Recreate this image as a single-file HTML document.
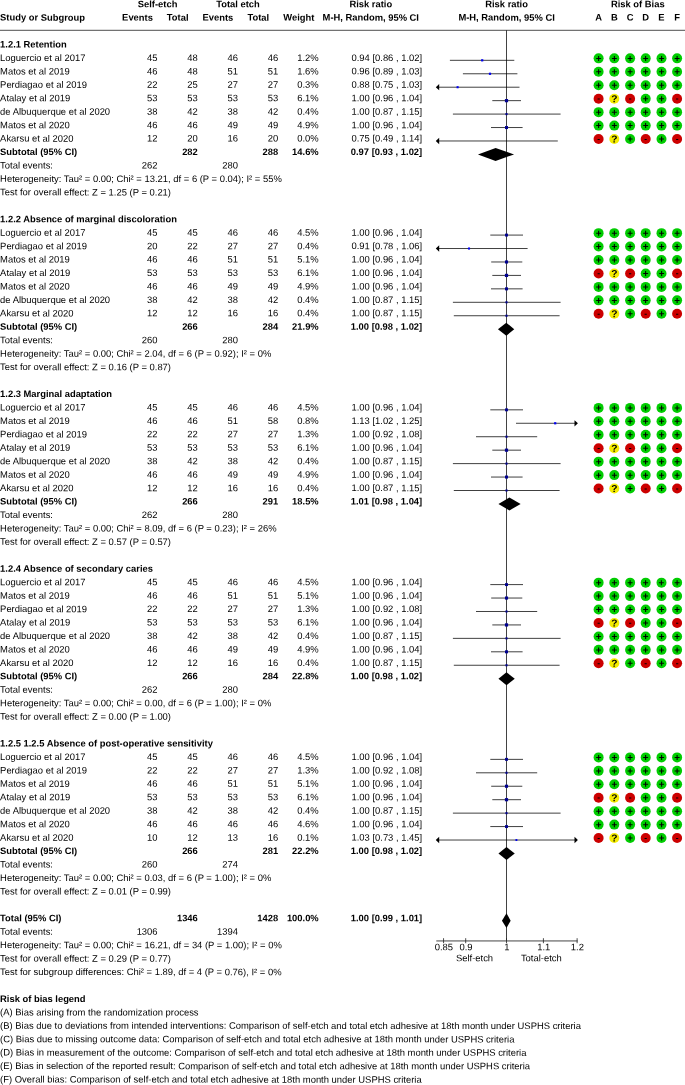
<!DOCTYPE html>
<html><head><meta charset="utf-8"><title>Forest plot</title>
<style>
html,body{margin:0;padding:0;background:#fff}
svg{display:block;will-change:transform}
svg text[font-weight=bold]{font-size:9.4px}
svg text{font-family:"Liberation Sans",Arial,Helvetica,sans-serif;font-size:9.44px;fill:#000;text-rendering:geometricPrecision}
</style></head><body>
<svg width="685" height="1085" viewBox="0 0 685 1085">
<rect width="685" height="1085" fill="#fff"/>
<text x="157.60" y="7.20" text-anchor="middle" font-weight="bold" transform="rotate(0.03 157.6 7.2)">Self-etch</text>
<text x="238.00" y="7.20" text-anchor="middle" font-weight="bold" transform="rotate(0.03 238.0 7.2)">Total etch</text>
<text x="370.80" y="7.20" text-anchor="middle" font-weight="bold" transform="rotate(0.03 370.8 7.2)">Risk ratio</text>
<text x="506.60" y="7.20" text-anchor="middle" font-weight="bold" transform="rotate(0.03 506.6 7.2)">Risk ratio</text>
<text x="637.80" y="7.20" text-anchor="middle" font-weight="bold" transform="rotate(0.03 637.8 7.2)">Risk of Bias</text>
<text x="0.10" y="20.64" font-weight="bold" transform="rotate(0.03 39.2 20.6)">Study or Subgroup</text>
<text x="137.50" y="20.64" text-anchor="middle" font-weight="bold" transform="rotate(0.03 137.5 20.6)">Events</text>
<text x="177.70" y="20.64" text-anchor="middle" font-weight="bold" transform="rotate(0.03 177.7 20.6)">Total</text>
<text x="217.90" y="20.64" text-anchor="middle" font-weight="bold" transform="rotate(0.03 217.9 20.6)">Events</text>
<text x="258.30" y="20.64" text-anchor="middle" font-weight="bold" transform="rotate(0.03 258.3 20.6)">Total</text>
<text x="298.90" y="20.64" text-anchor="middle" font-weight="bold" transform="rotate(0.03 298.9 20.6)">Weight</text>
<text x="370.80" y="20.64" text-anchor="middle" font-weight="bold" transform="rotate(0.03 370.8 20.6)">M-H, Random, 95% CI</text>
<text x="506.60" y="20.64" text-anchor="middle" font-weight="bold" transform="rotate(0.03 506.6 20.6)">M-H, Random, 95% CI</text>
<text x="598.60" y="20.64" text-anchor="middle" font-weight="bold" transform="rotate(0.03 598.6 20.6)">A</text>
<text x="614.30" y="20.64" text-anchor="middle" font-weight="bold" transform="rotate(0.03 614.3 20.6)">B</text>
<text x="630.10" y="20.64" text-anchor="middle" font-weight="bold" transform="rotate(0.03 630.1 20.6)">C</text>
<text x="645.70" y="20.64" text-anchor="middle" font-weight="bold" transform="rotate(0.03 645.7 20.6)">D</text>
<text x="661.50" y="20.64" text-anchor="middle" font-weight="bold" transform="rotate(0.03 661.5 20.6)">E</text>
<text x="677.10" y="20.64" text-anchor="middle" font-weight="bold" transform="rotate(0.03 677.1 20.6)">F</text>
<line x1="0.00" y1="30.30" x2="685.00" y2="30.30" stroke="#222" stroke-width="0.8"/>
<line x1="506.50" y1="30.30" x2="506.50" y2="940.70" stroke="#111" stroke-width="0.8"/>
<text x="0.10" y="47.53" font-weight="bold" transform="rotate(0.03 34.6 47.5)">1.2.1 Retention</text>
<text x="0.10" y="60.97" transform="rotate(0.03 46.1 61.0)">Loguercio et al 2017</text>
<text x="157.60" y="60.97" text-anchor="end" transform="rotate(0.03 157.6 61.0)">45</text>
<text x="197.80" y="60.97" text-anchor="end" transform="rotate(0.03 197.8 61.0)">48</text>
<text x="238.00" y="60.97" text-anchor="end" transform="rotate(0.03 238.0 61.0)">46</text>
<text x="278.20" y="60.97" text-anchor="end" transform="rotate(0.03 278.2 61.0)">46</text>
<text x="318.70" y="60.97" text-anchor="end" transform="rotate(0.03 318.7 61.0)">1.2%</text>
<text x="422.20" y="60.97" text-anchor="end" transform="rotate(0.03 422.2 61.0)">0.94 [0.86 , 1.02]</text>
<line x1="449.90" y1="60.32" x2="514.30" y2="60.32" stroke="#000" stroke-width="0.75"/>
<rect x="481.10" y="59.22" width="2.2" height="2.2" fill="#0000f0"/>
<circle cx="598.6" cy="58.37" r="5" fill="#00cc00"/>
<text x="598.60" y="61.67" text-anchor="middle" font-weight="bold" style="font-size:9.8px" transform="rotate(0.03 598.6 61.7)">+</text>
<circle cx="614.3" cy="58.37" r="5" fill="#00cc00"/>
<text x="614.30" y="61.67" text-anchor="middle" font-weight="bold" style="font-size:9.8px" transform="rotate(0.03 614.3 61.7)">+</text>
<circle cx="630.1" cy="58.37" r="5" fill="#00cc00"/>
<text x="630.10" y="61.67" text-anchor="middle" font-weight="bold" style="font-size:9.8px" transform="rotate(0.03 630.1 61.7)">+</text>
<circle cx="645.7" cy="58.37" r="5" fill="#00cc00"/>
<text x="645.70" y="61.67" text-anchor="middle" font-weight="bold" style="font-size:9.8px" transform="rotate(0.03 645.7 61.7)">+</text>
<circle cx="661.5" cy="58.37" r="5" fill="#00cc00"/>
<text x="661.50" y="61.67" text-anchor="middle" font-weight="bold" style="font-size:9.8px" transform="rotate(0.03 661.5 61.7)">+</text>
<circle cx="677.1" cy="58.37" r="5" fill="#00cc00"/>
<text x="677.10" y="61.67" text-anchor="middle" font-weight="bold" style="font-size:9.8px" transform="rotate(0.03 677.1 61.7)">+</text>
<text x="0.10" y="74.42" transform="rotate(0.03 36.9 74.4)">Matos et al 2019</text>
<text x="157.60" y="74.42" text-anchor="end" transform="rotate(0.03 157.6 74.4)">46</text>
<text x="197.80" y="74.42" text-anchor="end" transform="rotate(0.03 197.8 74.4)">48</text>
<text x="238.00" y="74.42" text-anchor="end" transform="rotate(0.03 238.0 74.4)">51</text>
<text x="278.20" y="74.42" text-anchor="end" transform="rotate(0.03 278.2 74.4)">51</text>
<text x="318.70" y="74.42" text-anchor="end" transform="rotate(0.03 318.7 74.4)">1.6%</text>
<text x="422.20" y="74.42" text-anchor="end" transform="rotate(0.03 422.2 74.4)">0.96 [0.89 , 1.03]</text>
<line x1="462.90" y1="73.77" x2="517.40" y2="73.77" stroke="#000" stroke-width="0.75"/>
<rect x="488.90" y="72.67" width="2.2" height="2.2" fill="#0000f0"/>
<circle cx="598.6" cy="71.82" r="5" fill="#00cc00"/>
<text x="598.60" y="75.12" text-anchor="middle" font-weight="bold" style="font-size:9.8px" transform="rotate(0.03 598.6 75.1)">+</text>
<circle cx="614.3" cy="71.82" r="5" fill="#00cc00"/>
<text x="614.30" y="75.12" text-anchor="middle" font-weight="bold" style="font-size:9.8px" transform="rotate(0.03 614.3 75.1)">+</text>
<circle cx="630.1" cy="71.82" r="5" fill="#00cc00"/>
<text x="630.10" y="75.12" text-anchor="middle" font-weight="bold" style="font-size:9.8px" transform="rotate(0.03 630.1 75.1)">+</text>
<circle cx="645.7" cy="71.82" r="5" fill="#00cc00"/>
<text x="645.70" y="75.12" text-anchor="middle" font-weight="bold" style="font-size:9.8px" transform="rotate(0.03 645.7 75.1)">+</text>
<circle cx="661.5" cy="71.82" r="5" fill="#00cc00"/>
<text x="661.50" y="75.12" text-anchor="middle" font-weight="bold" style="font-size:9.8px" transform="rotate(0.03 661.5 75.1)">+</text>
<circle cx="677.1" cy="71.82" r="5" fill="#00cc00"/>
<text x="677.10" y="75.12" text-anchor="middle" font-weight="bold" style="font-size:9.8px" transform="rotate(0.03 677.1 75.1)">+</text>
<text x="0.10" y="87.86" transform="rotate(0.03 46.1 87.9)">Perdiagao et al 2019</text>
<text x="157.60" y="87.86" text-anchor="end" transform="rotate(0.03 157.6 87.9)">22</text>
<text x="197.80" y="87.86" text-anchor="end" transform="rotate(0.03 197.8 87.9)">25</text>
<text x="238.00" y="87.86" text-anchor="end" transform="rotate(0.03 238.0 87.9)">27</text>
<text x="278.20" y="87.86" text-anchor="end" transform="rotate(0.03 278.2 87.9)">27</text>
<text x="318.70" y="87.86" text-anchor="end" transform="rotate(0.03 318.7 87.9)">0.3%</text>
<text x="422.20" y="87.86" text-anchor="end" transform="rotate(0.03 422.2 87.9)">0.88 [0.75 , 1.03]</text>
<line x1="437.30" y1="87.21" x2="519.50" y2="87.21" stroke="#000" stroke-width="0.75"/>
<polygon points="435.80,87.21 439.20,84.06 439.20,90.36" fill="#000"/>
<rect x="456.55" y="86.16" width="2.1" height="2.1" fill="#0000f0"/>
<circle cx="598.6" cy="85.26" r="5" fill="#00cc00"/>
<text x="598.60" y="88.56" text-anchor="middle" font-weight="bold" style="font-size:9.8px" transform="rotate(0.03 598.6 88.6)">+</text>
<circle cx="614.3" cy="85.26" r="5" fill="#00cc00"/>
<text x="614.30" y="88.56" text-anchor="middle" font-weight="bold" style="font-size:9.8px" transform="rotate(0.03 614.3 88.6)">+</text>
<circle cx="630.1" cy="85.26" r="5" fill="#00cc00"/>
<text x="630.10" y="88.56" text-anchor="middle" font-weight="bold" style="font-size:9.8px" transform="rotate(0.03 630.1 88.6)">+</text>
<circle cx="645.7" cy="85.26" r="5" fill="#00cc00"/>
<text x="645.70" y="88.56" text-anchor="middle" font-weight="bold" style="font-size:9.8px" transform="rotate(0.03 645.7 88.6)">+</text>
<circle cx="661.5" cy="85.26" r="5" fill="#00cc00"/>
<text x="661.50" y="88.56" text-anchor="middle" font-weight="bold" style="font-size:9.8px" transform="rotate(0.03 661.5 88.6)">+</text>
<circle cx="677.1" cy="85.26" r="5" fill="#00cc00"/>
<text x="677.10" y="88.56" text-anchor="middle" font-weight="bold" style="font-size:9.8px" transform="rotate(0.03 677.1 88.6)">+</text>
<text x="0.10" y="101.30" transform="rotate(0.03 39.2 101.3)">Atalay et al 2019</text>
<text x="157.60" y="101.30" text-anchor="end" transform="rotate(0.03 157.6 101.3)">53</text>
<text x="197.80" y="101.30" text-anchor="end" transform="rotate(0.03 197.8 101.3)">53</text>
<text x="238.00" y="101.30" text-anchor="end" transform="rotate(0.03 238.0 101.3)">53</text>
<text x="278.20" y="101.30" text-anchor="end" transform="rotate(0.03 278.2 101.3)">53</text>
<text x="318.70" y="101.30" text-anchor="end" transform="rotate(0.03 318.7 101.3)">6.1%</text>
<text x="422.20" y="101.30" text-anchor="end" transform="rotate(0.03 422.2 101.3)">1.00 [0.96 , 1.04]</text>
<line x1="492.30" y1="100.65" x2="521.00" y2="100.65" stroke="#000" stroke-width="0.75"/>
<rect x="504.90" y="99.05" width="3.2" height="3.2" fill="#000090"/>
<circle cx="598.6" cy="98.70" r="5" fill="#cc0000"/>
<text x="598.60" y="101.35" text-anchor="middle" font-weight="bold" style="font-size:8.6px" transform="rotate(0.03 598.6 101.4)">-</text>
<circle cx="614.3" cy="98.70" r="5" fill="#f4ec00"/>
<text x="614.30" y="102.20" text-anchor="middle" font-weight="bold" style="font-size:10.2px" transform="rotate(0.03 614.3 102.2)">?</text>
<circle cx="630.1" cy="98.70" r="5" fill="#cc0000"/>
<text x="630.10" y="101.35" text-anchor="middle" font-weight="bold" style="font-size:8.6px" transform="rotate(0.03 630.1 101.4)">-</text>
<circle cx="645.7" cy="98.70" r="5" fill="#00cc00"/>
<text x="645.70" y="102.00" text-anchor="middle" font-weight="bold" style="font-size:9.8px" transform="rotate(0.03 645.7 102.0)">+</text>
<circle cx="661.5" cy="98.70" r="5" fill="#00cc00"/>
<text x="661.50" y="102.00" text-anchor="middle" font-weight="bold" style="font-size:9.8px" transform="rotate(0.03 661.5 102.0)">+</text>
<circle cx="677.1" cy="98.70" r="5" fill="#cc0000"/>
<text x="677.10" y="101.35" text-anchor="middle" font-weight="bold" style="font-size:8.6px" transform="rotate(0.03 677.1 101.4)">-</text>
<text x="0.10" y="114.74" transform="rotate(0.03 57.6 114.7)">de Albuquerque et al 2020</text>
<text x="157.60" y="114.74" text-anchor="end" transform="rotate(0.03 157.6 114.7)">38</text>
<text x="197.80" y="114.74" text-anchor="end" transform="rotate(0.03 197.8 114.7)">42</text>
<text x="238.00" y="114.74" text-anchor="end" transform="rotate(0.03 238.0 114.7)">38</text>
<text x="278.20" y="114.74" text-anchor="end" transform="rotate(0.03 278.2 114.7)">42</text>
<text x="318.70" y="114.74" text-anchor="end" transform="rotate(0.03 318.7 114.7)">0.4%</text>
<text x="422.20" y="114.74" text-anchor="end" transform="rotate(0.03 422.2 114.7)">1.00 [0.87 , 1.15]</text>
<line x1="452.90" y1="114.09" x2="560.60" y2="114.09" stroke="#000" stroke-width="0.75"/>
<rect x="505.45" y="113.04" width="2.1" height="2.1" fill="#000090"/>
<circle cx="598.6" cy="112.14" r="5" fill="#00cc00"/>
<text x="598.60" y="115.44" text-anchor="middle" font-weight="bold" style="font-size:9.8px" transform="rotate(0.03 598.6 115.4)">+</text>
<circle cx="614.3" cy="112.14" r="5" fill="#00cc00"/>
<text x="614.30" y="115.44" text-anchor="middle" font-weight="bold" style="font-size:9.8px" transform="rotate(0.03 614.3 115.4)">+</text>
<circle cx="630.1" cy="112.14" r="5" fill="#00cc00"/>
<text x="630.10" y="115.44" text-anchor="middle" font-weight="bold" style="font-size:9.8px" transform="rotate(0.03 630.1 115.4)">+</text>
<circle cx="645.7" cy="112.14" r="5" fill="#00cc00"/>
<text x="645.70" y="115.44" text-anchor="middle" font-weight="bold" style="font-size:9.8px" transform="rotate(0.03 645.7 115.4)">+</text>
<circle cx="661.5" cy="112.14" r="5" fill="#00cc00"/>
<text x="661.50" y="115.44" text-anchor="middle" font-weight="bold" style="font-size:9.8px" transform="rotate(0.03 661.5 115.4)">+</text>
<circle cx="677.1" cy="112.14" r="5" fill="#00cc00"/>
<text x="677.10" y="115.44" text-anchor="middle" font-weight="bold" style="font-size:9.8px" transform="rotate(0.03 677.1 115.4)">+</text>
<text x="0.10" y="128.19" transform="rotate(0.03 36.9 128.2)">Matos et al 2020</text>
<text x="157.60" y="128.19" text-anchor="end" transform="rotate(0.03 157.6 128.2)">46</text>
<text x="197.80" y="128.19" text-anchor="end" transform="rotate(0.03 197.8 128.2)">46</text>
<text x="238.00" y="128.19" text-anchor="end" transform="rotate(0.03 238.0 128.2)">49</text>
<text x="278.20" y="128.19" text-anchor="end" transform="rotate(0.03 278.2 128.2)">49</text>
<text x="318.70" y="128.19" text-anchor="end" transform="rotate(0.03 318.7 128.2)">4.9%</text>
<text x="422.20" y="128.19" text-anchor="end" transform="rotate(0.03 422.2 128.2)">1.00 [0.96 , 1.04]</text>
<line x1="491.00" y1="127.54" x2="522.60" y2="127.54" stroke="#000" stroke-width="0.75"/>
<rect x="505.00" y="126.04" width="3.0" height="3.0" fill="#000090"/>
<circle cx="598.6" cy="125.59" r="5" fill="#00cc00"/>
<text x="598.60" y="128.89" text-anchor="middle" font-weight="bold" style="font-size:9.8px" transform="rotate(0.03 598.6 128.9)">+</text>
<circle cx="614.3" cy="125.59" r="5" fill="#00cc00"/>
<text x="614.30" y="128.89" text-anchor="middle" font-weight="bold" style="font-size:9.8px" transform="rotate(0.03 614.3 128.9)">+</text>
<circle cx="630.1" cy="125.59" r="5" fill="#00cc00"/>
<text x="630.10" y="128.89" text-anchor="middle" font-weight="bold" style="font-size:9.8px" transform="rotate(0.03 630.1 128.9)">+</text>
<circle cx="645.7" cy="125.59" r="5" fill="#00cc00"/>
<text x="645.70" y="128.89" text-anchor="middle" font-weight="bold" style="font-size:9.8px" transform="rotate(0.03 645.7 128.9)">+</text>
<circle cx="661.5" cy="125.59" r="5" fill="#00cc00"/>
<text x="661.50" y="128.89" text-anchor="middle" font-weight="bold" style="font-size:9.8px" transform="rotate(0.03 661.5 128.9)">+</text>
<circle cx="677.1" cy="125.59" r="5" fill="#00cc00"/>
<text x="677.10" y="128.89" text-anchor="middle" font-weight="bold" style="font-size:9.8px" transform="rotate(0.03 677.1 128.9)">+</text>
<text x="0.10" y="141.63" transform="rotate(0.03 39.2 141.6)">Akarsu et al 2020</text>
<text x="157.60" y="141.63" text-anchor="end" transform="rotate(0.03 157.6 141.6)">12</text>
<text x="197.80" y="141.63" text-anchor="end" transform="rotate(0.03 197.8 141.6)">20</text>
<text x="238.00" y="141.63" text-anchor="end" transform="rotate(0.03 238.0 141.6)">16</text>
<text x="278.20" y="141.63" text-anchor="end" transform="rotate(0.03 278.2 141.6)">20</text>
<text x="318.70" y="141.63" text-anchor="end" transform="rotate(0.03 318.7 141.6)">0.0%</text>
<text x="422.20" y="141.63" text-anchor="end" transform="rotate(0.03 422.2 141.6)">0.75 [0.49 , 1.14]</text>
<line x1="437.30" y1="140.98" x2="557.80" y2="140.98" stroke="#000" stroke-width="0.75"/>
<polygon points="435.80,140.98 439.20,137.83 439.20,144.13" fill="#000"/>
<circle cx="598.6" cy="139.03" r="5" fill="#cc0000"/>
<text x="598.60" y="141.68" text-anchor="middle" font-weight="bold" style="font-size:8.6px" transform="rotate(0.03 598.6 141.7)">-</text>
<circle cx="614.3" cy="139.03" r="5" fill="#f4ec00"/>
<text x="614.30" y="142.53" text-anchor="middle" font-weight="bold" style="font-size:10.2px" transform="rotate(0.03 614.3 142.5)">?</text>
<circle cx="630.1" cy="139.03" r="5" fill="#00cc00"/>
<text x="630.10" y="142.33" text-anchor="middle" font-weight="bold" style="font-size:9.8px" transform="rotate(0.03 630.1 142.3)">+</text>
<circle cx="645.7" cy="139.03" r="5" fill="#cc0000"/>
<text x="645.70" y="141.68" text-anchor="middle" font-weight="bold" style="font-size:8.6px" transform="rotate(0.03 645.7 141.7)">-</text>
<circle cx="661.5" cy="139.03" r="5" fill="#00cc00"/>
<text x="661.50" y="142.33" text-anchor="middle" font-weight="bold" style="font-size:9.8px" transform="rotate(0.03 661.5 142.3)">+</text>
<circle cx="677.1" cy="139.03" r="5" fill="#cc0000"/>
<text x="677.10" y="141.68" text-anchor="middle" font-weight="bold" style="font-size:8.6px" transform="rotate(0.03 677.1 141.7)">-</text>
<text x="0.10" y="155.07" font-weight="bold" transform="rotate(0.03 39.2 155.1)">Subtotal (95% CI)</text>
<text x="197.80" y="155.07" text-anchor="end" font-weight="bold" transform="rotate(0.03 197.8 155.1)">282</text>
<text x="278.20" y="155.07" text-anchor="end" font-weight="bold" transform="rotate(0.03 278.2 155.1)">288</text>
<text x="318.70" y="155.07" text-anchor="end" font-weight="bold" transform="rotate(0.03 318.7 155.1)">14.6%</text>
<text x="422.20" y="155.07" text-anchor="end" font-weight="bold" transform="rotate(0.03 422.2 155.1)">0.97 [0.93 , 1.02]</text>
<polygon points="477.95,154.42 495.60,147.92 514.05,154.42 495.60,160.92" fill="#000"/>
<text x="0.10" y="168.52" transform="rotate(0.03 30.0 168.5)">Total events:</text>
<text x="157.60" y="168.52" text-anchor="end" transform="rotate(0.03 157.6 168.5)">262</text>
<text x="238.00" y="168.52" text-anchor="end" transform="rotate(0.03 238.0 168.5)">280</text>
<text x="0.10" y="181.96" transform="rotate(0.03 158.8 182.0)">Heterogeneity: Tau² = 0.00; Chi² = 13.21, df = 6 (P = 0.04); I² = 55%</text>
<text x="0.10" y="195.40" transform="rotate(0.03 101.3 195.4)">Test for overall effect: Z = 1.25 (P = 0.21)</text>
<text x="0.10" y="222.29" font-weight="bold" transform="rotate(0.03 89.8 222.3)">1.2.2 Absence of marginal discoloration</text>
<text x="0.10" y="235.73" transform="rotate(0.03 46.1 235.7)">Loguercio et al 2017</text>
<text x="157.60" y="235.73" text-anchor="end" transform="rotate(0.03 157.6 235.7)">45</text>
<text x="197.80" y="235.73" text-anchor="end" transform="rotate(0.03 197.8 235.7)">45</text>
<text x="238.00" y="235.73" text-anchor="end" transform="rotate(0.03 238.0 235.7)">46</text>
<text x="278.20" y="235.73" text-anchor="end" transform="rotate(0.03 278.2 235.7)">46</text>
<text x="318.70" y="235.73" text-anchor="end" transform="rotate(0.03 318.7 235.7)">4.5%</text>
<text x="422.20" y="235.73" text-anchor="end" transform="rotate(0.03 422.2 235.7)">1.00 [0.96 , 1.04]</text>
<line x1="490.30" y1="235.08" x2="523.00" y2="235.08" stroke="#000" stroke-width="0.75"/>
<rect x="505.05" y="233.63" width="2.9" height="2.9" fill="#000090"/>
<circle cx="598.6" cy="233.13" r="5" fill="#00cc00"/>
<text x="598.60" y="236.43" text-anchor="middle" font-weight="bold" style="font-size:9.8px" transform="rotate(0.03 598.6 236.4)">+</text>
<circle cx="614.3" cy="233.13" r="5" fill="#00cc00"/>
<text x="614.30" y="236.43" text-anchor="middle" font-weight="bold" style="font-size:9.8px" transform="rotate(0.03 614.3 236.4)">+</text>
<circle cx="630.1" cy="233.13" r="5" fill="#00cc00"/>
<text x="630.10" y="236.43" text-anchor="middle" font-weight="bold" style="font-size:9.8px" transform="rotate(0.03 630.1 236.4)">+</text>
<circle cx="645.7" cy="233.13" r="5" fill="#00cc00"/>
<text x="645.70" y="236.43" text-anchor="middle" font-weight="bold" style="font-size:9.8px" transform="rotate(0.03 645.7 236.4)">+</text>
<circle cx="661.5" cy="233.13" r="5" fill="#00cc00"/>
<text x="661.50" y="236.43" text-anchor="middle" font-weight="bold" style="font-size:9.8px" transform="rotate(0.03 661.5 236.4)">+</text>
<circle cx="677.1" cy="233.13" r="5" fill="#00cc00"/>
<text x="677.10" y="236.43" text-anchor="middle" font-weight="bold" style="font-size:9.8px" transform="rotate(0.03 677.1 236.4)">+</text>
<text x="0.10" y="249.17" transform="rotate(0.03 46.1 249.2)">Perdiagao et al 2019</text>
<text x="157.60" y="249.17" text-anchor="end" transform="rotate(0.03 157.6 249.2)">20</text>
<text x="197.80" y="249.17" text-anchor="end" transform="rotate(0.03 197.8 249.2)">22</text>
<text x="238.00" y="249.17" text-anchor="end" transform="rotate(0.03 238.0 249.2)">27</text>
<text x="278.20" y="249.17" text-anchor="end" transform="rotate(0.03 278.2 249.2)">27</text>
<text x="318.70" y="249.17" text-anchor="end" transform="rotate(0.03 318.7 249.2)">0.4%</text>
<text x="422.20" y="249.17" text-anchor="end" transform="rotate(0.03 422.2 249.2)">0.91 [0.78 , 1.06]</text>
<line x1="437.30" y1="248.52" x2="527.60" y2="248.52" stroke="#000" stroke-width="0.75"/>
<polygon points="435.80,248.52 439.20,245.37 439.20,251.67" fill="#000"/>
<rect x="467.95" y="247.47" width="2.1" height="2.1" fill="#0000f0"/>
<circle cx="598.6" cy="246.57" r="5" fill="#00cc00"/>
<text x="598.60" y="249.87" text-anchor="middle" font-weight="bold" style="font-size:9.8px" transform="rotate(0.03 598.6 249.9)">+</text>
<circle cx="614.3" cy="246.57" r="5" fill="#00cc00"/>
<text x="614.30" y="249.87" text-anchor="middle" font-weight="bold" style="font-size:9.8px" transform="rotate(0.03 614.3 249.9)">+</text>
<circle cx="630.1" cy="246.57" r="5" fill="#00cc00"/>
<text x="630.10" y="249.87" text-anchor="middle" font-weight="bold" style="font-size:9.8px" transform="rotate(0.03 630.1 249.9)">+</text>
<circle cx="645.7" cy="246.57" r="5" fill="#00cc00"/>
<text x="645.70" y="249.87" text-anchor="middle" font-weight="bold" style="font-size:9.8px" transform="rotate(0.03 645.7 249.9)">+</text>
<circle cx="661.5" cy="246.57" r="5" fill="#00cc00"/>
<text x="661.50" y="249.87" text-anchor="middle" font-weight="bold" style="font-size:9.8px" transform="rotate(0.03 661.5 249.9)">+</text>
<circle cx="677.1" cy="246.57" r="5" fill="#00cc00"/>
<text x="677.10" y="249.87" text-anchor="middle" font-weight="bold" style="font-size:9.8px" transform="rotate(0.03 677.1 249.9)">+</text>
<text x="0.10" y="262.62" transform="rotate(0.03 36.9 262.6)">Matos et al 2019</text>
<text x="157.60" y="262.62" text-anchor="end" transform="rotate(0.03 157.6 262.6)">46</text>
<text x="197.80" y="262.62" text-anchor="end" transform="rotate(0.03 197.8 262.6)">46</text>
<text x="238.00" y="262.62" text-anchor="end" transform="rotate(0.03 238.0 262.6)">51</text>
<text x="278.20" y="262.62" text-anchor="end" transform="rotate(0.03 278.2 262.6)">51</text>
<text x="318.70" y="262.62" text-anchor="end" transform="rotate(0.03 318.7 262.6)">5.1%</text>
<text x="422.20" y="262.62" text-anchor="end" transform="rotate(0.03 422.2 262.6)">1.00 [0.96 , 1.04]</text>
<line x1="491.20" y1="261.97" x2="522.30" y2="261.97" stroke="#000" stroke-width="0.75"/>
<rect x="504.95" y="260.42" width="3.1" height="3.1" fill="#000090"/>
<circle cx="598.6" cy="260.02" r="5" fill="#00cc00"/>
<text x="598.60" y="263.32" text-anchor="middle" font-weight="bold" style="font-size:9.8px" transform="rotate(0.03 598.6 263.3)">+</text>
<circle cx="614.3" cy="260.02" r="5" fill="#00cc00"/>
<text x="614.30" y="263.32" text-anchor="middle" font-weight="bold" style="font-size:9.8px" transform="rotate(0.03 614.3 263.3)">+</text>
<circle cx="630.1" cy="260.02" r="5" fill="#00cc00"/>
<text x="630.10" y="263.32" text-anchor="middle" font-weight="bold" style="font-size:9.8px" transform="rotate(0.03 630.1 263.3)">+</text>
<circle cx="645.7" cy="260.02" r="5" fill="#00cc00"/>
<text x="645.70" y="263.32" text-anchor="middle" font-weight="bold" style="font-size:9.8px" transform="rotate(0.03 645.7 263.3)">+</text>
<circle cx="661.5" cy="260.02" r="5" fill="#00cc00"/>
<text x="661.50" y="263.32" text-anchor="middle" font-weight="bold" style="font-size:9.8px" transform="rotate(0.03 661.5 263.3)">+</text>
<circle cx="677.1" cy="260.02" r="5" fill="#00cc00"/>
<text x="677.10" y="263.32" text-anchor="middle" font-weight="bold" style="font-size:9.8px" transform="rotate(0.03 677.1 263.3)">+</text>
<text x="0.10" y="276.06" transform="rotate(0.03 39.2 276.1)">Atalay et al 2019</text>
<text x="157.60" y="276.06" text-anchor="end" transform="rotate(0.03 157.6 276.1)">53</text>
<text x="197.80" y="276.06" text-anchor="end" transform="rotate(0.03 197.8 276.1)">53</text>
<text x="238.00" y="276.06" text-anchor="end" transform="rotate(0.03 238.0 276.1)">53</text>
<text x="278.20" y="276.06" text-anchor="end" transform="rotate(0.03 278.2 276.1)">53</text>
<text x="318.70" y="276.06" text-anchor="end" transform="rotate(0.03 318.7 276.1)">6.1%</text>
<text x="422.20" y="276.06" text-anchor="end" transform="rotate(0.03 422.2 276.1)">1.00 [0.96 , 1.04]</text>
<line x1="492.30" y1="275.41" x2="521.00" y2="275.41" stroke="#000" stroke-width="0.75"/>
<rect x="504.90" y="273.81" width="3.2" height="3.2" fill="#000090"/>
<circle cx="598.6" cy="273.46" r="5" fill="#cc0000"/>
<text x="598.60" y="276.11" text-anchor="middle" font-weight="bold" style="font-size:8.6px" transform="rotate(0.03 598.6 276.1)">-</text>
<circle cx="614.3" cy="273.46" r="5" fill="#f4ec00"/>
<text x="614.30" y="276.96" text-anchor="middle" font-weight="bold" style="font-size:10.2px" transform="rotate(0.03 614.3 277.0)">?</text>
<circle cx="630.1" cy="273.46" r="5" fill="#cc0000"/>
<text x="630.10" y="276.11" text-anchor="middle" font-weight="bold" style="font-size:8.6px" transform="rotate(0.03 630.1 276.1)">-</text>
<circle cx="645.7" cy="273.46" r="5" fill="#00cc00"/>
<text x="645.70" y="276.76" text-anchor="middle" font-weight="bold" style="font-size:9.8px" transform="rotate(0.03 645.7 276.8)">+</text>
<circle cx="661.5" cy="273.46" r="5" fill="#00cc00"/>
<text x="661.50" y="276.76" text-anchor="middle" font-weight="bold" style="font-size:9.8px" transform="rotate(0.03 661.5 276.8)">+</text>
<circle cx="677.1" cy="273.46" r="5" fill="#cc0000"/>
<text x="677.10" y="276.11" text-anchor="middle" font-weight="bold" style="font-size:8.6px" transform="rotate(0.03 677.1 276.1)">-</text>
<text x="0.10" y="289.50" transform="rotate(0.03 36.9 289.5)">Matos et al 2020</text>
<text x="157.60" y="289.50" text-anchor="end" transform="rotate(0.03 157.6 289.5)">46</text>
<text x="197.80" y="289.50" text-anchor="end" transform="rotate(0.03 197.8 289.5)">46</text>
<text x="238.00" y="289.50" text-anchor="end" transform="rotate(0.03 238.0 289.5)">49</text>
<text x="278.20" y="289.50" text-anchor="end" transform="rotate(0.03 278.2 289.5)">49</text>
<text x="318.70" y="289.50" text-anchor="end" transform="rotate(0.03 318.7 289.5)">4.9%</text>
<text x="422.20" y="289.50" text-anchor="end" transform="rotate(0.03 422.2 289.5)">1.00 [0.96 , 1.04]</text>
<line x1="491.00" y1="288.85" x2="522.60" y2="288.85" stroke="#000" stroke-width="0.75"/>
<rect x="505.00" y="287.35" width="3.0" height="3.0" fill="#000090"/>
<circle cx="598.6" cy="286.90" r="5" fill="#00cc00"/>
<text x="598.60" y="290.20" text-anchor="middle" font-weight="bold" style="font-size:9.8px" transform="rotate(0.03 598.6 290.2)">+</text>
<circle cx="614.3" cy="286.90" r="5" fill="#00cc00"/>
<text x="614.30" y="290.20" text-anchor="middle" font-weight="bold" style="font-size:9.8px" transform="rotate(0.03 614.3 290.2)">+</text>
<circle cx="630.1" cy="286.90" r="5" fill="#00cc00"/>
<text x="630.10" y="290.20" text-anchor="middle" font-weight="bold" style="font-size:9.8px" transform="rotate(0.03 630.1 290.2)">+</text>
<circle cx="645.7" cy="286.90" r="5" fill="#00cc00"/>
<text x="645.70" y="290.20" text-anchor="middle" font-weight="bold" style="font-size:9.8px" transform="rotate(0.03 645.7 290.2)">+</text>
<circle cx="661.5" cy="286.90" r="5" fill="#00cc00"/>
<text x="661.50" y="290.20" text-anchor="middle" font-weight="bold" style="font-size:9.8px" transform="rotate(0.03 661.5 290.2)">+</text>
<circle cx="677.1" cy="286.90" r="5" fill="#00cc00"/>
<text x="677.10" y="290.20" text-anchor="middle" font-weight="bold" style="font-size:9.8px" transform="rotate(0.03 677.1 290.2)">+</text>
<text x="0.10" y="302.95" transform="rotate(0.03 57.6 302.9)">de Albuquerque et al 2020</text>
<text x="157.60" y="302.95" text-anchor="end" transform="rotate(0.03 157.6 302.9)">38</text>
<text x="197.80" y="302.95" text-anchor="end" transform="rotate(0.03 197.8 302.9)">42</text>
<text x="238.00" y="302.95" text-anchor="end" transform="rotate(0.03 238.0 302.9)">38</text>
<text x="278.20" y="302.95" text-anchor="end" transform="rotate(0.03 278.2 302.9)">42</text>
<text x="318.70" y="302.95" text-anchor="end" transform="rotate(0.03 318.7 302.9)">0.4%</text>
<text x="422.20" y="302.95" text-anchor="end" transform="rotate(0.03 422.2 302.9)">1.00 [0.87 , 1.15]</text>
<line x1="452.90" y1="302.30" x2="560.60" y2="302.30" stroke="#000" stroke-width="0.75"/>
<rect x="505.45" y="301.25" width="2.1" height="2.1" fill="#000090"/>
<circle cx="598.6" cy="300.35" r="5" fill="#00cc00"/>
<text x="598.60" y="303.65" text-anchor="middle" font-weight="bold" style="font-size:9.8px" transform="rotate(0.03 598.6 303.6)">+</text>
<circle cx="614.3" cy="300.35" r="5" fill="#00cc00"/>
<text x="614.30" y="303.65" text-anchor="middle" font-weight="bold" style="font-size:9.8px" transform="rotate(0.03 614.3 303.6)">+</text>
<circle cx="630.1" cy="300.35" r="5" fill="#00cc00"/>
<text x="630.10" y="303.65" text-anchor="middle" font-weight="bold" style="font-size:9.8px" transform="rotate(0.03 630.1 303.6)">+</text>
<circle cx="645.7" cy="300.35" r="5" fill="#00cc00"/>
<text x="645.70" y="303.65" text-anchor="middle" font-weight="bold" style="font-size:9.8px" transform="rotate(0.03 645.7 303.6)">+</text>
<circle cx="661.5" cy="300.35" r="5" fill="#00cc00"/>
<text x="661.50" y="303.65" text-anchor="middle" font-weight="bold" style="font-size:9.8px" transform="rotate(0.03 661.5 303.6)">+</text>
<circle cx="677.1" cy="300.35" r="5" fill="#00cc00"/>
<text x="677.10" y="303.65" text-anchor="middle" font-weight="bold" style="font-size:9.8px" transform="rotate(0.03 677.1 303.6)">+</text>
<text x="0.10" y="316.39" transform="rotate(0.03 39.2 316.4)">Akarsu et al 2020</text>
<text x="157.60" y="316.39" text-anchor="end" transform="rotate(0.03 157.6 316.4)">12</text>
<text x="197.80" y="316.39" text-anchor="end" transform="rotate(0.03 197.8 316.4)">12</text>
<text x="238.00" y="316.39" text-anchor="end" transform="rotate(0.03 238.0 316.4)">16</text>
<text x="278.20" y="316.39" text-anchor="end" transform="rotate(0.03 278.2 316.4)">16</text>
<text x="318.70" y="316.39" text-anchor="end" transform="rotate(0.03 318.7 316.4)">0.4%</text>
<text x="422.20" y="316.39" text-anchor="end" transform="rotate(0.03 422.2 316.4)">1.00 [0.87 , 1.15]</text>
<line x1="453.80" y1="315.74" x2="559.60" y2="315.74" stroke="#000" stroke-width="0.75"/>
<rect x="505.45" y="314.69" width="2.1" height="2.1" fill="#000090"/>
<circle cx="598.6" cy="313.79" r="5" fill="#cc0000"/>
<text x="598.60" y="316.44" text-anchor="middle" font-weight="bold" style="font-size:8.6px" transform="rotate(0.03 598.6 316.4)">-</text>
<circle cx="614.3" cy="313.79" r="5" fill="#f4ec00"/>
<text x="614.30" y="317.29" text-anchor="middle" font-weight="bold" style="font-size:10.2px" transform="rotate(0.03 614.3 317.3)">?</text>
<circle cx="630.1" cy="313.79" r="5" fill="#00cc00"/>
<text x="630.10" y="317.09" text-anchor="middle" font-weight="bold" style="font-size:9.8px" transform="rotate(0.03 630.1 317.1)">+</text>
<circle cx="645.7" cy="313.79" r="5" fill="#cc0000"/>
<text x="645.70" y="316.44" text-anchor="middle" font-weight="bold" style="font-size:8.6px" transform="rotate(0.03 645.7 316.4)">-</text>
<circle cx="661.5" cy="313.79" r="5" fill="#00cc00"/>
<text x="661.50" y="317.09" text-anchor="middle" font-weight="bold" style="font-size:9.8px" transform="rotate(0.03 661.5 317.1)">+</text>
<circle cx="677.1" cy="313.79" r="5" fill="#cc0000"/>
<text x="677.10" y="316.44" text-anchor="middle" font-weight="bold" style="font-size:8.6px" transform="rotate(0.03 677.1 316.4)">-</text>
<text x="0.10" y="329.83" font-weight="bold" transform="rotate(0.03 39.2 329.8)">Subtotal (95% CI)</text>
<text x="197.80" y="329.83" text-anchor="end" font-weight="bold" transform="rotate(0.03 197.8 329.8)">266</text>
<text x="278.20" y="329.83" text-anchor="end" font-weight="bold" transform="rotate(0.03 278.2 329.8)">284</text>
<text x="318.70" y="329.83" text-anchor="end" font-weight="bold" transform="rotate(0.03 318.7 329.8)">21.9%</text>
<text x="422.20" y="329.83" text-anchor="end" font-weight="bold" transform="rotate(0.03 422.2 329.8)">1.00 [0.98 , 1.02]</text>
<polygon points="497.95,329.18 506.30,322.68 514.25,329.18 506.30,335.68" fill="#000"/>
<text x="0.10" y="343.27" transform="rotate(0.03 30.0 343.3)">Total events:</text>
<text x="157.60" y="343.27" text-anchor="end" transform="rotate(0.03 157.6 343.3)">260</text>
<text x="238.00" y="343.27" text-anchor="end" transform="rotate(0.03 238.0 343.3)">280</text>
<text x="0.10" y="356.72" transform="rotate(0.03 154.2 356.7)">Heterogeneity: Tau² = 0.00; Chi² = 2.04, df = 6 (P = 0.92); I² = 0%</text>
<text x="0.10" y="370.16" transform="rotate(0.03 101.3 370.2)">Test for overall effect: Z = 0.16 (P = 0.87)</text>
<text x="0.10" y="397.05" font-weight="bold" transform="rotate(0.03 57.6 397.0)">1.2.3 Marginal adaptation</text>
<text x="0.10" y="410.49" transform="rotate(0.03 46.1 410.5)">Loguercio et al 2017</text>
<text x="157.60" y="410.49" text-anchor="end" transform="rotate(0.03 157.6 410.5)">45</text>
<text x="197.80" y="410.49" text-anchor="end" transform="rotate(0.03 197.8 410.5)">45</text>
<text x="238.00" y="410.49" text-anchor="end" transform="rotate(0.03 238.0 410.5)">46</text>
<text x="278.20" y="410.49" text-anchor="end" transform="rotate(0.03 278.2 410.5)">46</text>
<text x="318.70" y="410.49" text-anchor="end" transform="rotate(0.03 318.7 410.5)">4.5%</text>
<text x="422.20" y="410.49" text-anchor="end" transform="rotate(0.03 422.2 410.5)">1.00 [0.96 , 1.04]</text>
<line x1="490.30" y1="409.84" x2="523.00" y2="409.84" stroke="#000" stroke-width="0.75"/>
<rect x="505.05" y="408.39" width="2.9" height="2.9" fill="#000090"/>
<circle cx="598.6" cy="407.89" r="5" fill="#00cc00"/>
<text x="598.60" y="411.19" text-anchor="middle" font-weight="bold" style="font-size:9.8px" transform="rotate(0.03 598.6 411.2)">+</text>
<circle cx="614.3" cy="407.89" r="5" fill="#00cc00"/>
<text x="614.30" y="411.19" text-anchor="middle" font-weight="bold" style="font-size:9.8px" transform="rotate(0.03 614.3 411.2)">+</text>
<circle cx="630.1" cy="407.89" r="5" fill="#00cc00"/>
<text x="630.10" y="411.19" text-anchor="middle" font-weight="bold" style="font-size:9.8px" transform="rotate(0.03 630.1 411.2)">+</text>
<circle cx="645.7" cy="407.89" r="5" fill="#00cc00"/>
<text x="645.70" y="411.19" text-anchor="middle" font-weight="bold" style="font-size:9.8px" transform="rotate(0.03 645.7 411.2)">+</text>
<circle cx="661.5" cy="407.89" r="5" fill="#00cc00"/>
<text x="661.50" y="411.19" text-anchor="middle" font-weight="bold" style="font-size:9.8px" transform="rotate(0.03 661.5 411.2)">+</text>
<circle cx="677.1" cy="407.89" r="5" fill="#00cc00"/>
<text x="677.10" y="411.19" text-anchor="middle" font-weight="bold" style="font-size:9.8px" transform="rotate(0.03 677.1 411.2)">+</text>
<text x="0.10" y="423.93" transform="rotate(0.03 36.9 423.9)">Matos et al 2019</text>
<text x="157.60" y="423.93" text-anchor="end" transform="rotate(0.03 157.6 423.9)">46</text>
<text x="197.80" y="423.93" text-anchor="end" transform="rotate(0.03 197.8 423.9)">46</text>
<text x="238.00" y="423.93" text-anchor="end" transform="rotate(0.03 238.0 423.9)">51</text>
<text x="278.20" y="423.93" text-anchor="end" transform="rotate(0.03 278.2 423.9)">58</text>
<text x="318.70" y="423.93" text-anchor="end" transform="rotate(0.03 318.7 423.9)">0.8%</text>
<text x="422.20" y="423.93" text-anchor="end" transform="rotate(0.03 422.2 423.9)">1.13 [1.02 , 1.25]</text>
<line x1="516.00" y1="423.28" x2="576.40" y2="423.28" stroke="#000" stroke-width="0.75"/>
<polygon points="577.90,423.28 574.50,420.13 574.50,426.43" fill="#000"/>
<rect x="554.10" y="422.18" width="2.2" height="2.2" fill="#0000f0"/>
<circle cx="598.6" cy="421.33" r="5" fill="#00cc00"/>
<text x="598.60" y="424.63" text-anchor="middle" font-weight="bold" style="font-size:9.8px" transform="rotate(0.03 598.6 424.6)">+</text>
<circle cx="614.3" cy="421.33" r="5" fill="#00cc00"/>
<text x="614.30" y="424.63" text-anchor="middle" font-weight="bold" style="font-size:9.8px" transform="rotate(0.03 614.3 424.6)">+</text>
<circle cx="630.1" cy="421.33" r="5" fill="#00cc00"/>
<text x="630.10" y="424.63" text-anchor="middle" font-weight="bold" style="font-size:9.8px" transform="rotate(0.03 630.1 424.6)">+</text>
<circle cx="645.7" cy="421.33" r="5" fill="#00cc00"/>
<text x="645.70" y="424.63" text-anchor="middle" font-weight="bold" style="font-size:9.8px" transform="rotate(0.03 645.7 424.6)">+</text>
<circle cx="661.5" cy="421.33" r="5" fill="#00cc00"/>
<text x="661.50" y="424.63" text-anchor="middle" font-weight="bold" style="font-size:9.8px" transform="rotate(0.03 661.5 424.6)">+</text>
<circle cx="677.1" cy="421.33" r="5" fill="#00cc00"/>
<text x="677.10" y="424.63" text-anchor="middle" font-weight="bold" style="font-size:9.8px" transform="rotate(0.03 677.1 424.6)">+</text>
<text x="0.10" y="437.38" transform="rotate(0.03 46.1 437.4)">Perdiagao et al 2019</text>
<text x="157.60" y="437.38" text-anchor="end" transform="rotate(0.03 157.6 437.4)">22</text>
<text x="197.80" y="437.38" text-anchor="end" transform="rotate(0.03 197.8 437.4)">22</text>
<text x="238.00" y="437.38" text-anchor="end" transform="rotate(0.03 238.0 437.4)">27</text>
<text x="278.20" y="437.38" text-anchor="end" transform="rotate(0.03 278.2 437.4)">27</text>
<text x="318.70" y="437.38" text-anchor="end" transform="rotate(0.03 318.7 437.4)">1.3%</text>
<text x="422.20" y="437.38" text-anchor="end" transform="rotate(0.03 422.2 437.4)">1.00 [0.92 , 1.08]</text>
<line x1="476.00" y1="436.73" x2="537.20" y2="436.73" stroke="#000" stroke-width="0.75"/>
<rect x="505.45" y="435.68" width="2.1" height="2.1" fill="#000090"/>
<circle cx="598.6" cy="434.78" r="5" fill="#00cc00"/>
<text x="598.60" y="438.08" text-anchor="middle" font-weight="bold" style="font-size:9.8px" transform="rotate(0.03 598.6 438.1)">+</text>
<circle cx="614.3" cy="434.78" r="5" fill="#00cc00"/>
<text x="614.30" y="438.08" text-anchor="middle" font-weight="bold" style="font-size:9.8px" transform="rotate(0.03 614.3 438.1)">+</text>
<circle cx="630.1" cy="434.78" r="5" fill="#00cc00"/>
<text x="630.10" y="438.08" text-anchor="middle" font-weight="bold" style="font-size:9.8px" transform="rotate(0.03 630.1 438.1)">+</text>
<circle cx="645.7" cy="434.78" r="5" fill="#00cc00"/>
<text x="645.70" y="438.08" text-anchor="middle" font-weight="bold" style="font-size:9.8px" transform="rotate(0.03 645.7 438.1)">+</text>
<circle cx="661.5" cy="434.78" r="5" fill="#00cc00"/>
<text x="661.50" y="438.08" text-anchor="middle" font-weight="bold" style="font-size:9.8px" transform="rotate(0.03 661.5 438.1)">+</text>
<circle cx="677.1" cy="434.78" r="5" fill="#00cc00"/>
<text x="677.10" y="438.08" text-anchor="middle" font-weight="bold" style="font-size:9.8px" transform="rotate(0.03 677.1 438.1)">+</text>
<text x="0.10" y="450.82" transform="rotate(0.03 39.2 450.8)">Atalay et al 2019</text>
<text x="157.60" y="450.82" text-anchor="end" transform="rotate(0.03 157.6 450.8)">53</text>
<text x="197.80" y="450.82" text-anchor="end" transform="rotate(0.03 197.8 450.8)">53</text>
<text x="238.00" y="450.82" text-anchor="end" transform="rotate(0.03 238.0 450.8)">53</text>
<text x="278.20" y="450.82" text-anchor="end" transform="rotate(0.03 278.2 450.8)">53</text>
<text x="318.70" y="450.82" text-anchor="end" transform="rotate(0.03 318.7 450.8)">6.1%</text>
<text x="422.20" y="450.82" text-anchor="end" transform="rotate(0.03 422.2 450.8)">1.00 [0.96 , 1.04]</text>
<line x1="492.30" y1="450.17" x2="521.00" y2="450.17" stroke="#000" stroke-width="0.75"/>
<rect x="504.90" y="448.57" width="3.2" height="3.2" fill="#000090"/>
<circle cx="598.6" cy="448.22" r="5" fill="#cc0000"/>
<text x="598.60" y="450.87" text-anchor="middle" font-weight="bold" style="font-size:8.6px" transform="rotate(0.03 598.6 450.9)">-</text>
<circle cx="614.3" cy="448.22" r="5" fill="#f4ec00"/>
<text x="614.30" y="451.72" text-anchor="middle" font-weight="bold" style="font-size:10.2px" transform="rotate(0.03 614.3 451.7)">?</text>
<circle cx="630.1" cy="448.22" r="5" fill="#cc0000"/>
<text x="630.10" y="450.87" text-anchor="middle" font-weight="bold" style="font-size:8.6px" transform="rotate(0.03 630.1 450.9)">-</text>
<circle cx="645.7" cy="448.22" r="5" fill="#00cc00"/>
<text x="645.70" y="451.52" text-anchor="middle" font-weight="bold" style="font-size:9.8px" transform="rotate(0.03 645.7 451.5)">+</text>
<circle cx="661.5" cy="448.22" r="5" fill="#00cc00"/>
<text x="661.50" y="451.52" text-anchor="middle" font-weight="bold" style="font-size:9.8px" transform="rotate(0.03 661.5 451.5)">+</text>
<circle cx="677.1" cy="448.22" r="5" fill="#cc0000"/>
<text x="677.10" y="450.87" text-anchor="middle" font-weight="bold" style="font-size:8.6px" transform="rotate(0.03 677.1 450.9)">-</text>
<text x="0.10" y="464.26" transform="rotate(0.03 57.6 464.3)">de Albuquerque et al 2020</text>
<text x="157.60" y="464.26" text-anchor="end" transform="rotate(0.03 157.6 464.3)">38</text>
<text x="197.80" y="464.26" text-anchor="end" transform="rotate(0.03 197.8 464.3)">42</text>
<text x="238.00" y="464.26" text-anchor="end" transform="rotate(0.03 238.0 464.3)">38</text>
<text x="278.20" y="464.26" text-anchor="end" transform="rotate(0.03 278.2 464.3)">42</text>
<text x="318.70" y="464.26" text-anchor="end" transform="rotate(0.03 318.7 464.3)">0.4%</text>
<text x="422.20" y="464.26" text-anchor="end" transform="rotate(0.03 422.2 464.3)">1.00 [0.87 , 1.15]</text>
<line x1="452.90" y1="463.61" x2="560.60" y2="463.61" stroke="#000" stroke-width="0.75"/>
<rect x="505.45" y="462.56" width="2.1" height="2.1" fill="#000090"/>
<circle cx="598.6" cy="461.66" r="5" fill="#00cc00"/>
<text x="598.60" y="464.96" text-anchor="middle" font-weight="bold" style="font-size:9.8px" transform="rotate(0.03 598.6 465.0)">+</text>
<circle cx="614.3" cy="461.66" r="5" fill="#00cc00"/>
<text x="614.30" y="464.96" text-anchor="middle" font-weight="bold" style="font-size:9.8px" transform="rotate(0.03 614.3 465.0)">+</text>
<circle cx="630.1" cy="461.66" r="5" fill="#00cc00"/>
<text x="630.10" y="464.96" text-anchor="middle" font-weight="bold" style="font-size:9.8px" transform="rotate(0.03 630.1 465.0)">+</text>
<circle cx="645.7" cy="461.66" r="5" fill="#00cc00"/>
<text x="645.70" y="464.96" text-anchor="middle" font-weight="bold" style="font-size:9.8px" transform="rotate(0.03 645.7 465.0)">+</text>
<circle cx="661.5" cy="461.66" r="5" fill="#00cc00"/>
<text x="661.50" y="464.96" text-anchor="middle" font-weight="bold" style="font-size:9.8px" transform="rotate(0.03 661.5 465.0)">+</text>
<circle cx="677.1" cy="461.66" r="5" fill="#00cc00"/>
<text x="677.10" y="464.96" text-anchor="middle" font-weight="bold" style="font-size:9.8px" transform="rotate(0.03 677.1 465.0)">+</text>
<text x="0.10" y="477.70" transform="rotate(0.03 36.9 477.7)">Matos et al 2020</text>
<text x="157.60" y="477.70" text-anchor="end" transform="rotate(0.03 157.6 477.7)">46</text>
<text x="197.80" y="477.70" text-anchor="end" transform="rotate(0.03 197.8 477.7)">46</text>
<text x="238.00" y="477.70" text-anchor="end" transform="rotate(0.03 238.0 477.7)">49</text>
<text x="278.20" y="477.70" text-anchor="end" transform="rotate(0.03 278.2 477.7)">49</text>
<text x="318.70" y="477.70" text-anchor="end" transform="rotate(0.03 318.7 477.7)">4.9%</text>
<text x="422.20" y="477.70" text-anchor="end" transform="rotate(0.03 422.2 477.7)">1.00 [0.96 , 1.04]</text>
<line x1="491.00" y1="477.06" x2="522.60" y2="477.06" stroke="#000" stroke-width="0.75"/>
<rect x="505.00" y="475.56" width="3.0" height="3.0" fill="#000090"/>
<circle cx="598.6" cy="475.10" r="5" fill="#00cc00"/>
<text x="598.60" y="478.40" text-anchor="middle" font-weight="bold" style="font-size:9.8px" transform="rotate(0.03 598.6 478.4)">+</text>
<circle cx="614.3" cy="475.10" r="5" fill="#00cc00"/>
<text x="614.30" y="478.40" text-anchor="middle" font-weight="bold" style="font-size:9.8px" transform="rotate(0.03 614.3 478.4)">+</text>
<circle cx="630.1" cy="475.10" r="5" fill="#00cc00"/>
<text x="630.10" y="478.40" text-anchor="middle" font-weight="bold" style="font-size:9.8px" transform="rotate(0.03 630.1 478.4)">+</text>
<circle cx="645.7" cy="475.10" r="5" fill="#00cc00"/>
<text x="645.70" y="478.40" text-anchor="middle" font-weight="bold" style="font-size:9.8px" transform="rotate(0.03 645.7 478.4)">+</text>
<circle cx="661.5" cy="475.10" r="5" fill="#00cc00"/>
<text x="661.50" y="478.40" text-anchor="middle" font-weight="bold" style="font-size:9.8px" transform="rotate(0.03 661.5 478.4)">+</text>
<circle cx="677.1" cy="475.10" r="5" fill="#00cc00"/>
<text x="677.10" y="478.40" text-anchor="middle" font-weight="bold" style="font-size:9.8px" transform="rotate(0.03 677.1 478.4)">+</text>
<text x="0.10" y="491.15" transform="rotate(0.03 39.2 491.1)">Akarsu et al 2020</text>
<text x="157.60" y="491.15" text-anchor="end" transform="rotate(0.03 157.6 491.1)">12</text>
<text x="197.80" y="491.15" text-anchor="end" transform="rotate(0.03 197.8 491.1)">12</text>
<text x="238.00" y="491.15" text-anchor="end" transform="rotate(0.03 238.0 491.1)">16</text>
<text x="278.20" y="491.15" text-anchor="end" transform="rotate(0.03 278.2 491.1)">16</text>
<text x="318.70" y="491.15" text-anchor="end" transform="rotate(0.03 318.7 491.1)">0.4%</text>
<text x="422.20" y="491.15" text-anchor="end" transform="rotate(0.03 422.2 491.1)">1.00 [0.87 , 1.15]</text>
<line x1="453.80" y1="490.50" x2="559.60" y2="490.50" stroke="#000" stroke-width="0.75"/>
<rect x="505.45" y="489.45" width="2.1" height="2.1" fill="#000090"/>
<circle cx="598.6" cy="488.55" r="5" fill="#cc0000"/>
<text x="598.60" y="491.20" text-anchor="middle" font-weight="bold" style="font-size:8.6px" transform="rotate(0.03 598.6 491.2)">-</text>
<circle cx="614.3" cy="488.55" r="5" fill="#f4ec00"/>
<text x="614.30" y="492.05" text-anchor="middle" font-weight="bold" style="font-size:10.2px" transform="rotate(0.03 614.3 492.0)">?</text>
<circle cx="630.1" cy="488.55" r="5" fill="#00cc00"/>
<text x="630.10" y="491.85" text-anchor="middle" font-weight="bold" style="font-size:9.8px" transform="rotate(0.03 630.1 491.8)">+</text>
<circle cx="645.7" cy="488.55" r="5" fill="#cc0000"/>
<text x="645.70" y="491.20" text-anchor="middle" font-weight="bold" style="font-size:8.6px" transform="rotate(0.03 645.7 491.2)">-</text>
<circle cx="661.5" cy="488.55" r="5" fill="#00cc00"/>
<text x="661.50" y="491.85" text-anchor="middle" font-weight="bold" style="font-size:9.8px" transform="rotate(0.03 661.5 491.8)">+</text>
<circle cx="677.1" cy="488.55" r="5" fill="#cc0000"/>
<text x="677.10" y="491.20" text-anchor="middle" font-weight="bold" style="font-size:8.6px" transform="rotate(0.03 677.1 491.2)">-</text>
<text x="0.10" y="504.59" font-weight="bold" transform="rotate(0.03 39.2 504.6)">Subtotal (95% CI)</text>
<text x="197.80" y="504.59" text-anchor="end" font-weight="bold" transform="rotate(0.03 197.8 504.6)">266</text>
<text x="278.20" y="504.59" text-anchor="end" font-weight="bold" transform="rotate(0.03 278.2 504.6)">291</text>
<text x="318.70" y="504.59" text-anchor="end" font-weight="bold" transform="rotate(0.03 318.7 504.6)">18.5%</text>
<text x="422.20" y="504.59" text-anchor="end" font-weight="bold" transform="rotate(0.03 422.2 504.6)">1.01 [0.98 , 1.04]</text>
<polygon points="498.45,503.94 509.40,497.44 520.65,503.94 509.40,510.44" fill="#000"/>
<text x="0.10" y="518.03" transform="rotate(0.03 30.0 518.0)">Total events:</text>
<text x="157.60" y="518.03" text-anchor="end" transform="rotate(0.03 157.6 518.0)">262</text>
<text x="238.00" y="518.03" text-anchor="end" transform="rotate(0.03 238.0 518.0)">280</text>
<text x="0.10" y="531.48" transform="rotate(0.03 156.5 531.5)">Heterogeneity: Tau² = 0.00; Chi² = 8.09, df = 6 (P = 0.23); I² = 26%</text>
<text x="0.10" y="544.92" transform="rotate(0.03 101.3 544.9)">Test for overall effect: Z = 0.57 (P = 0.57)</text>
<text x="0.10" y="571.81" font-weight="bold" transform="rotate(0.03 76.0 571.8)">1.2.4 Absence of secondary caries</text>
<text x="0.10" y="585.25" transform="rotate(0.03 46.1 585.2)">Loguercio et al 2017</text>
<text x="157.60" y="585.25" text-anchor="end" transform="rotate(0.03 157.6 585.2)">45</text>
<text x="197.80" y="585.25" text-anchor="end" transform="rotate(0.03 197.8 585.2)">45</text>
<text x="238.00" y="585.25" text-anchor="end" transform="rotate(0.03 238.0 585.2)">46</text>
<text x="278.20" y="585.25" text-anchor="end" transform="rotate(0.03 278.2 585.2)">46</text>
<text x="318.70" y="585.25" text-anchor="end" transform="rotate(0.03 318.7 585.2)">4.5%</text>
<text x="422.20" y="585.25" text-anchor="end" transform="rotate(0.03 422.2 585.2)">1.00 [0.96 , 1.04]</text>
<line x1="490.30" y1="584.60" x2="523.00" y2="584.60" stroke="#000" stroke-width="0.75"/>
<rect x="505.05" y="583.15" width="2.9" height="2.9" fill="#000090"/>
<circle cx="598.6" cy="582.65" r="5" fill="#00cc00"/>
<text x="598.60" y="585.95" text-anchor="middle" font-weight="bold" style="font-size:9.8px" transform="rotate(0.03 598.6 585.9)">+</text>
<circle cx="614.3" cy="582.65" r="5" fill="#00cc00"/>
<text x="614.30" y="585.95" text-anchor="middle" font-weight="bold" style="font-size:9.8px" transform="rotate(0.03 614.3 585.9)">+</text>
<circle cx="630.1" cy="582.65" r="5" fill="#00cc00"/>
<text x="630.10" y="585.95" text-anchor="middle" font-weight="bold" style="font-size:9.8px" transform="rotate(0.03 630.1 585.9)">+</text>
<circle cx="645.7" cy="582.65" r="5" fill="#00cc00"/>
<text x="645.70" y="585.95" text-anchor="middle" font-weight="bold" style="font-size:9.8px" transform="rotate(0.03 645.7 585.9)">+</text>
<circle cx="661.5" cy="582.65" r="5" fill="#00cc00"/>
<text x="661.50" y="585.95" text-anchor="middle" font-weight="bold" style="font-size:9.8px" transform="rotate(0.03 661.5 585.9)">+</text>
<circle cx="677.1" cy="582.65" r="5" fill="#00cc00"/>
<text x="677.10" y="585.95" text-anchor="middle" font-weight="bold" style="font-size:9.8px" transform="rotate(0.03 677.1 585.9)">+</text>
<text x="0.10" y="598.69" transform="rotate(0.03 36.9 598.7)">Matos et al 2019</text>
<text x="157.60" y="598.69" text-anchor="end" transform="rotate(0.03 157.6 598.7)">46</text>
<text x="197.80" y="598.69" text-anchor="end" transform="rotate(0.03 197.8 598.7)">46</text>
<text x="238.00" y="598.69" text-anchor="end" transform="rotate(0.03 238.0 598.7)">51</text>
<text x="278.20" y="598.69" text-anchor="end" transform="rotate(0.03 278.2 598.7)">51</text>
<text x="318.70" y="598.69" text-anchor="end" transform="rotate(0.03 318.7 598.7)">5.1%</text>
<text x="422.20" y="598.69" text-anchor="end" transform="rotate(0.03 422.2 598.7)">1.00 [0.96 , 1.04]</text>
<line x1="491.20" y1="598.04" x2="522.30" y2="598.04" stroke="#000" stroke-width="0.75"/>
<rect x="504.95" y="596.49" width="3.1" height="3.1" fill="#000090"/>
<circle cx="598.6" cy="596.09" r="5" fill="#00cc00"/>
<text x="598.60" y="599.39" text-anchor="middle" font-weight="bold" style="font-size:9.8px" transform="rotate(0.03 598.6 599.4)">+</text>
<circle cx="614.3" cy="596.09" r="5" fill="#00cc00"/>
<text x="614.30" y="599.39" text-anchor="middle" font-weight="bold" style="font-size:9.8px" transform="rotate(0.03 614.3 599.4)">+</text>
<circle cx="630.1" cy="596.09" r="5" fill="#00cc00"/>
<text x="630.10" y="599.39" text-anchor="middle" font-weight="bold" style="font-size:9.8px" transform="rotate(0.03 630.1 599.4)">+</text>
<circle cx="645.7" cy="596.09" r="5" fill="#00cc00"/>
<text x="645.70" y="599.39" text-anchor="middle" font-weight="bold" style="font-size:9.8px" transform="rotate(0.03 645.7 599.4)">+</text>
<circle cx="661.5" cy="596.09" r="5" fill="#00cc00"/>
<text x="661.50" y="599.39" text-anchor="middle" font-weight="bold" style="font-size:9.8px" transform="rotate(0.03 661.5 599.4)">+</text>
<circle cx="677.1" cy="596.09" r="5" fill="#00cc00"/>
<text x="677.10" y="599.39" text-anchor="middle" font-weight="bold" style="font-size:9.8px" transform="rotate(0.03 677.1 599.4)">+</text>
<text x="0.10" y="612.13" transform="rotate(0.03 46.1 612.1)">Perdiagao et al 2019</text>
<text x="157.60" y="612.13" text-anchor="end" transform="rotate(0.03 157.6 612.1)">22</text>
<text x="197.80" y="612.13" text-anchor="end" transform="rotate(0.03 197.8 612.1)">22</text>
<text x="238.00" y="612.13" text-anchor="end" transform="rotate(0.03 238.0 612.1)">27</text>
<text x="278.20" y="612.13" text-anchor="end" transform="rotate(0.03 278.2 612.1)">27</text>
<text x="318.70" y="612.13" text-anchor="end" transform="rotate(0.03 318.7 612.1)">1.3%</text>
<text x="422.20" y="612.13" text-anchor="end" transform="rotate(0.03 422.2 612.1)">1.00 [0.92 , 1.08]</text>
<line x1="476.00" y1="611.49" x2="537.20" y2="611.49" stroke="#000" stroke-width="0.75"/>
<rect x="505.45" y="610.44" width="2.1" height="2.1" fill="#000090"/>
<circle cx="598.6" cy="609.53" r="5" fill="#00cc00"/>
<text x="598.60" y="612.83" text-anchor="middle" font-weight="bold" style="font-size:9.8px" transform="rotate(0.03 598.6 612.8)">+</text>
<circle cx="614.3" cy="609.53" r="5" fill="#00cc00"/>
<text x="614.30" y="612.83" text-anchor="middle" font-weight="bold" style="font-size:9.8px" transform="rotate(0.03 614.3 612.8)">+</text>
<circle cx="630.1" cy="609.53" r="5" fill="#00cc00"/>
<text x="630.10" y="612.83" text-anchor="middle" font-weight="bold" style="font-size:9.8px" transform="rotate(0.03 630.1 612.8)">+</text>
<circle cx="645.7" cy="609.53" r="5" fill="#00cc00"/>
<text x="645.70" y="612.83" text-anchor="middle" font-weight="bold" style="font-size:9.8px" transform="rotate(0.03 645.7 612.8)">+</text>
<circle cx="661.5" cy="609.53" r="5" fill="#00cc00"/>
<text x="661.50" y="612.83" text-anchor="middle" font-weight="bold" style="font-size:9.8px" transform="rotate(0.03 661.5 612.8)">+</text>
<circle cx="677.1" cy="609.53" r="5" fill="#00cc00"/>
<text x="677.10" y="612.83" text-anchor="middle" font-weight="bold" style="font-size:9.8px" transform="rotate(0.03 677.1 612.8)">+</text>
<text x="0.10" y="625.58" transform="rotate(0.03 39.2 625.6)">Atalay et al 2019</text>
<text x="157.60" y="625.58" text-anchor="end" transform="rotate(0.03 157.6 625.6)">53</text>
<text x="197.80" y="625.58" text-anchor="end" transform="rotate(0.03 197.8 625.6)">53</text>
<text x="238.00" y="625.58" text-anchor="end" transform="rotate(0.03 238.0 625.6)">53</text>
<text x="278.20" y="625.58" text-anchor="end" transform="rotate(0.03 278.2 625.6)">53</text>
<text x="318.70" y="625.58" text-anchor="end" transform="rotate(0.03 318.7 625.6)">6.1%</text>
<text x="422.20" y="625.58" text-anchor="end" transform="rotate(0.03 422.2 625.6)">1.00 [0.96 , 1.04]</text>
<line x1="492.30" y1="624.93" x2="521.00" y2="624.93" stroke="#000" stroke-width="0.75"/>
<rect x="504.90" y="623.33" width="3.2" height="3.2" fill="#000090"/>
<circle cx="598.6" cy="622.98" r="5" fill="#cc0000"/>
<text x="598.60" y="625.63" text-anchor="middle" font-weight="bold" style="font-size:8.6px" transform="rotate(0.03 598.6 625.6)">-</text>
<circle cx="614.3" cy="622.98" r="5" fill="#f4ec00"/>
<text x="614.30" y="626.48" text-anchor="middle" font-weight="bold" style="font-size:10.2px" transform="rotate(0.03 614.3 626.5)">?</text>
<circle cx="630.1" cy="622.98" r="5" fill="#cc0000"/>
<text x="630.10" y="625.63" text-anchor="middle" font-weight="bold" style="font-size:8.6px" transform="rotate(0.03 630.1 625.6)">-</text>
<circle cx="645.7" cy="622.98" r="5" fill="#00cc00"/>
<text x="645.70" y="626.28" text-anchor="middle" font-weight="bold" style="font-size:9.8px" transform="rotate(0.03 645.7 626.3)">+</text>
<circle cx="661.5" cy="622.98" r="5" fill="#00cc00"/>
<text x="661.50" y="626.28" text-anchor="middle" font-weight="bold" style="font-size:9.8px" transform="rotate(0.03 661.5 626.3)">+</text>
<circle cx="677.1" cy="622.98" r="5" fill="#cc0000"/>
<text x="677.10" y="625.63" text-anchor="middle" font-weight="bold" style="font-size:8.6px" transform="rotate(0.03 677.1 625.6)">-</text>
<text x="0.10" y="639.02" transform="rotate(0.03 57.6 639.0)">de Albuquerque et al 2020</text>
<text x="157.60" y="639.02" text-anchor="end" transform="rotate(0.03 157.6 639.0)">38</text>
<text x="197.80" y="639.02" text-anchor="end" transform="rotate(0.03 197.8 639.0)">42</text>
<text x="238.00" y="639.02" text-anchor="end" transform="rotate(0.03 238.0 639.0)">38</text>
<text x="278.20" y="639.02" text-anchor="end" transform="rotate(0.03 278.2 639.0)">42</text>
<text x="318.70" y="639.02" text-anchor="end" transform="rotate(0.03 318.7 639.0)">0.4%</text>
<text x="422.20" y="639.02" text-anchor="end" transform="rotate(0.03 422.2 639.0)">1.00 [0.87 , 1.15]</text>
<line x1="452.90" y1="638.37" x2="560.60" y2="638.37" stroke="#000" stroke-width="0.75"/>
<rect x="505.45" y="637.32" width="2.1" height="2.1" fill="#000090"/>
<circle cx="598.6" cy="636.42" r="5" fill="#00cc00"/>
<text x="598.60" y="639.72" text-anchor="middle" font-weight="bold" style="font-size:9.8px" transform="rotate(0.03 598.6 639.7)">+</text>
<circle cx="614.3" cy="636.42" r="5" fill="#00cc00"/>
<text x="614.30" y="639.72" text-anchor="middle" font-weight="bold" style="font-size:9.8px" transform="rotate(0.03 614.3 639.7)">+</text>
<circle cx="630.1" cy="636.42" r="5" fill="#00cc00"/>
<text x="630.10" y="639.72" text-anchor="middle" font-weight="bold" style="font-size:9.8px" transform="rotate(0.03 630.1 639.7)">+</text>
<circle cx="645.7" cy="636.42" r="5" fill="#00cc00"/>
<text x="645.70" y="639.72" text-anchor="middle" font-weight="bold" style="font-size:9.8px" transform="rotate(0.03 645.7 639.7)">+</text>
<circle cx="661.5" cy="636.42" r="5" fill="#00cc00"/>
<text x="661.50" y="639.72" text-anchor="middle" font-weight="bold" style="font-size:9.8px" transform="rotate(0.03 661.5 639.7)">+</text>
<circle cx="677.1" cy="636.42" r="5" fill="#00cc00"/>
<text x="677.10" y="639.72" text-anchor="middle" font-weight="bold" style="font-size:9.8px" transform="rotate(0.03 677.1 639.7)">+</text>
<text x="0.10" y="652.46" transform="rotate(0.03 36.9 652.5)">Matos et al 2020</text>
<text x="157.60" y="652.46" text-anchor="end" transform="rotate(0.03 157.6 652.5)">46</text>
<text x="197.80" y="652.46" text-anchor="end" transform="rotate(0.03 197.8 652.5)">46</text>
<text x="238.00" y="652.46" text-anchor="end" transform="rotate(0.03 238.0 652.5)">49</text>
<text x="278.20" y="652.46" text-anchor="end" transform="rotate(0.03 278.2 652.5)">49</text>
<text x="318.70" y="652.46" text-anchor="end" transform="rotate(0.03 318.7 652.5)">4.9%</text>
<text x="422.20" y="652.46" text-anchor="end" transform="rotate(0.03 422.2 652.5)">1.00 [0.96 , 1.04]</text>
<line x1="491.00" y1="651.81" x2="522.60" y2="651.81" stroke="#000" stroke-width="0.75"/>
<rect x="505.00" y="650.31" width="3.0" height="3.0" fill="#000090"/>
<circle cx="598.6" cy="649.86" r="5" fill="#00cc00"/>
<text x="598.60" y="653.16" text-anchor="middle" font-weight="bold" style="font-size:9.8px" transform="rotate(0.03 598.6 653.2)">+</text>
<circle cx="614.3" cy="649.86" r="5" fill="#00cc00"/>
<text x="614.30" y="653.16" text-anchor="middle" font-weight="bold" style="font-size:9.8px" transform="rotate(0.03 614.3 653.2)">+</text>
<circle cx="630.1" cy="649.86" r="5" fill="#00cc00"/>
<text x="630.10" y="653.16" text-anchor="middle" font-weight="bold" style="font-size:9.8px" transform="rotate(0.03 630.1 653.2)">+</text>
<circle cx="645.7" cy="649.86" r="5" fill="#00cc00"/>
<text x="645.70" y="653.16" text-anchor="middle" font-weight="bold" style="font-size:9.8px" transform="rotate(0.03 645.7 653.2)">+</text>
<circle cx="661.5" cy="649.86" r="5" fill="#00cc00"/>
<text x="661.50" y="653.16" text-anchor="middle" font-weight="bold" style="font-size:9.8px" transform="rotate(0.03 661.5 653.2)">+</text>
<circle cx="677.1" cy="649.86" r="5" fill="#00cc00"/>
<text x="677.10" y="653.16" text-anchor="middle" font-weight="bold" style="font-size:9.8px" transform="rotate(0.03 677.1 653.2)">+</text>
<text x="0.10" y="665.91" transform="rotate(0.03 39.2 665.9)">Akarsu et al 2020</text>
<text x="157.60" y="665.91" text-anchor="end" transform="rotate(0.03 157.6 665.9)">12</text>
<text x="197.80" y="665.91" text-anchor="end" transform="rotate(0.03 197.8 665.9)">12</text>
<text x="238.00" y="665.91" text-anchor="end" transform="rotate(0.03 238.0 665.9)">16</text>
<text x="278.20" y="665.91" text-anchor="end" transform="rotate(0.03 278.2 665.9)">16</text>
<text x="318.70" y="665.91" text-anchor="end" transform="rotate(0.03 318.7 665.9)">0.4%</text>
<text x="422.20" y="665.91" text-anchor="end" transform="rotate(0.03 422.2 665.9)">1.00 [0.87 , 1.15]</text>
<line x1="453.80" y1="665.26" x2="559.60" y2="665.26" stroke="#000" stroke-width="0.75"/>
<rect x="505.45" y="664.21" width="2.1" height="2.1" fill="#000090"/>
<circle cx="598.6" cy="663.31" r="5" fill="#cc0000"/>
<text x="598.60" y="665.96" text-anchor="middle" font-weight="bold" style="font-size:8.6px" transform="rotate(0.03 598.6 666.0)">-</text>
<circle cx="614.3" cy="663.31" r="5" fill="#f4ec00"/>
<text x="614.30" y="666.81" text-anchor="middle" font-weight="bold" style="font-size:10.2px" transform="rotate(0.03 614.3 666.8)">?</text>
<circle cx="630.1" cy="663.31" r="5" fill="#00cc00"/>
<text x="630.10" y="666.61" text-anchor="middle" font-weight="bold" style="font-size:9.8px" transform="rotate(0.03 630.1 666.6)">+</text>
<circle cx="645.7" cy="663.31" r="5" fill="#cc0000"/>
<text x="645.70" y="665.96" text-anchor="middle" font-weight="bold" style="font-size:8.6px" transform="rotate(0.03 645.7 666.0)">-</text>
<circle cx="661.5" cy="663.31" r="5" fill="#00cc00"/>
<text x="661.50" y="666.61" text-anchor="middle" font-weight="bold" style="font-size:9.8px" transform="rotate(0.03 661.5 666.6)">+</text>
<circle cx="677.1" cy="663.31" r="5" fill="#cc0000"/>
<text x="677.10" y="665.96" text-anchor="middle" font-weight="bold" style="font-size:8.6px" transform="rotate(0.03 677.1 666.0)">-</text>
<text x="0.10" y="679.35" font-weight="bold" transform="rotate(0.03 39.2 679.4)">Subtotal (95% CI)</text>
<text x="197.80" y="679.35" text-anchor="end" font-weight="bold" transform="rotate(0.03 197.8 679.4)">266</text>
<text x="278.20" y="679.35" text-anchor="end" font-weight="bold" transform="rotate(0.03 278.2 679.4)">284</text>
<text x="318.70" y="679.35" text-anchor="end" font-weight="bold" transform="rotate(0.03 318.7 679.4)">22.8%</text>
<text x="422.20" y="679.35" text-anchor="end" font-weight="bold" transform="rotate(0.03 422.2 679.4)">1.00 [0.98 , 1.02]</text>
<polygon points="498.45,678.70 506.50,672.20 514.75,678.70 506.50,685.20" fill="#000"/>
<text x="0.10" y="692.79" transform="rotate(0.03 30.0 692.8)">Total events:</text>
<text x="157.60" y="692.79" text-anchor="end" transform="rotate(0.03 157.6 692.8)">262</text>
<text x="238.00" y="692.79" text-anchor="end" transform="rotate(0.03 238.0 692.8)">280</text>
<text x="0.10" y="706.24" transform="rotate(0.03 154.2 706.2)">Heterogeneity: Tau² = 0.00; Chi² = 0.00, df = 6 (P = 1.00); I² = 0%</text>
<text x="0.10" y="719.68" transform="rotate(0.03 101.3 719.7)">Test for overall effect: Z = 0.00 (P = 1.00)</text>
<text x="0.10" y="746.57" font-weight="bold" transform="rotate(0.03 112.8 746.6)">1.2.5 1.2.5 Absence of post-operative sensitivity</text>
<text x="0.10" y="760.01" transform="rotate(0.03 46.1 760.0)">Loguercio et al 2017</text>
<text x="157.60" y="760.01" text-anchor="end" transform="rotate(0.03 157.6 760.0)">45</text>
<text x="197.80" y="760.01" text-anchor="end" transform="rotate(0.03 197.8 760.0)">45</text>
<text x="238.00" y="760.01" text-anchor="end" transform="rotate(0.03 238.0 760.0)">46</text>
<text x="278.20" y="760.01" text-anchor="end" transform="rotate(0.03 278.2 760.0)">46</text>
<text x="318.70" y="760.01" text-anchor="end" transform="rotate(0.03 318.7 760.0)">4.5%</text>
<text x="422.20" y="760.01" text-anchor="end" transform="rotate(0.03 422.2 760.0)">1.00 [0.96 , 1.04]</text>
<line x1="490.30" y1="759.36" x2="523.00" y2="759.36" stroke="#000" stroke-width="0.75"/>
<rect x="505.05" y="757.91" width="2.9" height="2.9" fill="#000090"/>
<circle cx="598.6" cy="757.41" r="5" fill="#00cc00"/>
<text x="598.60" y="760.71" text-anchor="middle" font-weight="bold" style="font-size:9.8px" transform="rotate(0.03 598.6 760.7)">+</text>
<circle cx="614.3" cy="757.41" r="5" fill="#00cc00"/>
<text x="614.30" y="760.71" text-anchor="middle" font-weight="bold" style="font-size:9.8px" transform="rotate(0.03 614.3 760.7)">+</text>
<circle cx="630.1" cy="757.41" r="5" fill="#00cc00"/>
<text x="630.10" y="760.71" text-anchor="middle" font-weight="bold" style="font-size:9.8px" transform="rotate(0.03 630.1 760.7)">+</text>
<circle cx="645.7" cy="757.41" r="5" fill="#00cc00"/>
<text x="645.70" y="760.71" text-anchor="middle" font-weight="bold" style="font-size:9.8px" transform="rotate(0.03 645.7 760.7)">+</text>
<circle cx="661.5" cy="757.41" r="5" fill="#00cc00"/>
<text x="661.50" y="760.71" text-anchor="middle" font-weight="bold" style="font-size:9.8px" transform="rotate(0.03 661.5 760.7)">+</text>
<circle cx="677.1" cy="757.41" r="5" fill="#00cc00"/>
<text x="677.10" y="760.71" text-anchor="middle" font-weight="bold" style="font-size:9.8px" transform="rotate(0.03 677.1 760.7)">+</text>
<text x="0.10" y="773.45" transform="rotate(0.03 46.1 773.5)">Perdiagao et al 2019</text>
<text x="157.60" y="773.45" text-anchor="end" transform="rotate(0.03 157.6 773.5)">22</text>
<text x="197.80" y="773.45" text-anchor="end" transform="rotate(0.03 197.8 773.5)">22</text>
<text x="238.00" y="773.45" text-anchor="end" transform="rotate(0.03 238.0 773.5)">27</text>
<text x="278.20" y="773.45" text-anchor="end" transform="rotate(0.03 278.2 773.5)">27</text>
<text x="318.70" y="773.45" text-anchor="end" transform="rotate(0.03 318.7 773.5)">1.3%</text>
<text x="422.20" y="773.45" text-anchor="end" transform="rotate(0.03 422.2 773.5)">1.00 [0.92 , 1.08]</text>
<line x1="476.00" y1="772.80" x2="537.20" y2="772.80" stroke="#000" stroke-width="0.75"/>
<rect x="505.45" y="771.75" width="2.1" height="2.1" fill="#000090"/>
<circle cx="598.6" cy="770.85" r="5" fill="#00cc00"/>
<text x="598.60" y="774.15" text-anchor="middle" font-weight="bold" style="font-size:9.8px" transform="rotate(0.03 598.6 774.2)">+</text>
<circle cx="614.3" cy="770.85" r="5" fill="#00cc00"/>
<text x="614.30" y="774.15" text-anchor="middle" font-weight="bold" style="font-size:9.8px" transform="rotate(0.03 614.3 774.2)">+</text>
<circle cx="630.1" cy="770.85" r="5" fill="#00cc00"/>
<text x="630.10" y="774.15" text-anchor="middle" font-weight="bold" style="font-size:9.8px" transform="rotate(0.03 630.1 774.2)">+</text>
<circle cx="645.7" cy="770.85" r="5" fill="#00cc00"/>
<text x="645.70" y="774.15" text-anchor="middle" font-weight="bold" style="font-size:9.8px" transform="rotate(0.03 645.7 774.2)">+</text>
<circle cx="661.5" cy="770.85" r="5" fill="#00cc00"/>
<text x="661.50" y="774.15" text-anchor="middle" font-weight="bold" style="font-size:9.8px" transform="rotate(0.03 661.5 774.2)">+</text>
<circle cx="677.1" cy="770.85" r="5" fill="#00cc00"/>
<text x="677.10" y="774.15" text-anchor="middle" font-weight="bold" style="font-size:9.8px" transform="rotate(0.03 677.1 774.2)">+</text>
<text x="0.10" y="786.89" transform="rotate(0.03 36.9 786.9)">Matos et al 2019</text>
<text x="157.60" y="786.89" text-anchor="end" transform="rotate(0.03 157.6 786.9)">46</text>
<text x="197.80" y="786.89" text-anchor="end" transform="rotate(0.03 197.8 786.9)">46</text>
<text x="238.00" y="786.89" text-anchor="end" transform="rotate(0.03 238.0 786.9)">51</text>
<text x="278.20" y="786.89" text-anchor="end" transform="rotate(0.03 278.2 786.9)">51</text>
<text x="318.70" y="786.89" text-anchor="end" transform="rotate(0.03 318.7 786.9)">5.1%</text>
<text x="422.20" y="786.89" text-anchor="end" transform="rotate(0.03 422.2 786.9)">1.00 [0.96 , 1.04]</text>
<line x1="491.20" y1="786.24" x2="522.30" y2="786.24" stroke="#000" stroke-width="0.75"/>
<rect x="504.95" y="784.69" width="3.1" height="3.1" fill="#000090"/>
<circle cx="598.6" cy="784.29" r="5" fill="#00cc00"/>
<text x="598.60" y="787.59" text-anchor="middle" font-weight="bold" style="font-size:9.8px" transform="rotate(0.03 598.6 787.6)">+</text>
<circle cx="614.3" cy="784.29" r="5" fill="#00cc00"/>
<text x="614.30" y="787.59" text-anchor="middle" font-weight="bold" style="font-size:9.8px" transform="rotate(0.03 614.3 787.6)">+</text>
<circle cx="630.1" cy="784.29" r="5" fill="#00cc00"/>
<text x="630.10" y="787.59" text-anchor="middle" font-weight="bold" style="font-size:9.8px" transform="rotate(0.03 630.1 787.6)">+</text>
<circle cx="645.7" cy="784.29" r="5" fill="#00cc00"/>
<text x="645.70" y="787.59" text-anchor="middle" font-weight="bold" style="font-size:9.8px" transform="rotate(0.03 645.7 787.6)">+</text>
<circle cx="661.5" cy="784.29" r="5" fill="#00cc00"/>
<text x="661.50" y="787.59" text-anchor="middle" font-weight="bold" style="font-size:9.8px" transform="rotate(0.03 661.5 787.6)">+</text>
<circle cx="677.1" cy="784.29" r="5" fill="#00cc00"/>
<text x="677.10" y="787.59" text-anchor="middle" font-weight="bold" style="font-size:9.8px" transform="rotate(0.03 677.1 787.6)">+</text>
<text x="0.10" y="800.34" transform="rotate(0.03 39.2 800.3)">Atalay et al 2019</text>
<text x="157.60" y="800.34" text-anchor="end" transform="rotate(0.03 157.6 800.3)">53</text>
<text x="197.80" y="800.34" text-anchor="end" transform="rotate(0.03 197.8 800.3)">53</text>
<text x="238.00" y="800.34" text-anchor="end" transform="rotate(0.03 238.0 800.3)">53</text>
<text x="278.20" y="800.34" text-anchor="end" transform="rotate(0.03 278.2 800.3)">53</text>
<text x="318.70" y="800.34" text-anchor="end" transform="rotate(0.03 318.7 800.3)">6.1%</text>
<text x="422.20" y="800.34" text-anchor="end" transform="rotate(0.03 422.2 800.3)">1.00 [0.96 , 1.04]</text>
<line x1="492.30" y1="799.69" x2="521.00" y2="799.69" stroke="#000" stroke-width="0.75"/>
<rect x="504.90" y="798.09" width="3.2" height="3.2" fill="#000090"/>
<circle cx="598.6" cy="797.74" r="5" fill="#cc0000"/>
<text x="598.60" y="800.39" text-anchor="middle" font-weight="bold" style="font-size:8.6px" transform="rotate(0.03 598.6 800.4)">-</text>
<circle cx="614.3" cy="797.74" r="5" fill="#f4ec00"/>
<text x="614.30" y="801.24" text-anchor="middle" font-weight="bold" style="font-size:10.2px" transform="rotate(0.03 614.3 801.2)">?</text>
<circle cx="630.1" cy="797.74" r="5" fill="#cc0000"/>
<text x="630.10" y="800.39" text-anchor="middle" font-weight="bold" style="font-size:8.6px" transform="rotate(0.03 630.1 800.4)">-</text>
<circle cx="645.7" cy="797.74" r="5" fill="#00cc00"/>
<text x="645.70" y="801.04" text-anchor="middle" font-weight="bold" style="font-size:9.8px" transform="rotate(0.03 645.7 801.0)">+</text>
<circle cx="661.5" cy="797.74" r="5" fill="#00cc00"/>
<text x="661.50" y="801.04" text-anchor="middle" font-weight="bold" style="font-size:9.8px" transform="rotate(0.03 661.5 801.0)">+</text>
<circle cx="677.1" cy="797.74" r="5" fill="#cc0000"/>
<text x="677.10" y="800.39" text-anchor="middle" font-weight="bold" style="font-size:8.6px" transform="rotate(0.03 677.1 800.4)">-</text>
<text x="0.10" y="813.78" transform="rotate(0.03 57.6 813.8)">de Albuquerque et al 2020</text>
<text x="157.60" y="813.78" text-anchor="end" transform="rotate(0.03 157.6 813.8)">38</text>
<text x="197.80" y="813.78" text-anchor="end" transform="rotate(0.03 197.8 813.8)">42</text>
<text x="238.00" y="813.78" text-anchor="end" transform="rotate(0.03 238.0 813.8)">38</text>
<text x="278.20" y="813.78" text-anchor="end" transform="rotate(0.03 278.2 813.8)">42</text>
<text x="318.70" y="813.78" text-anchor="end" transform="rotate(0.03 318.7 813.8)">0.4%</text>
<text x="422.20" y="813.78" text-anchor="end" transform="rotate(0.03 422.2 813.8)">1.00 [0.87 , 1.15]</text>
<line x1="452.90" y1="813.13" x2="560.60" y2="813.13" stroke="#000" stroke-width="0.75"/>
<rect x="505.45" y="812.08" width="2.1" height="2.1" fill="#000090"/>
<circle cx="598.6" cy="811.18" r="5" fill="#00cc00"/>
<text x="598.60" y="814.48" text-anchor="middle" font-weight="bold" style="font-size:9.8px" transform="rotate(0.03 598.6 814.5)">+</text>
<circle cx="614.3" cy="811.18" r="5" fill="#00cc00"/>
<text x="614.30" y="814.48" text-anchor="middle" font-weight="bold" style="font-size:9.8px" transform="rotate(0.03 614.3 814.5)">+</text>
<circle cx="630.1" cy="811.18" r="5" fill="#00cc00"/>
<text x="630.10" y="814.48" text-anchor="middle" font-weight="bold" style="font-size:9.8px" transform="rotate(0.03 630.1 814.5)">+</text>
<circle cx="645.7" cy="811.18" r="5" fill="#00cc00"/>
<text x="645.70" y="814.48" text-anchor="middle" font-weight="bold" style="font-size:9.8px" transform="rotate(0.03 645.7 814.5)">+</text>
<circle cx="661.5" cy="811.18" r="5" fill="#00cc00"/>
<text x="661.50" y="814.48" text-anchor="middle" font-weight="bold" style="font-size:9.8px" transform="rotate(0.03 661.5 814.5)">+</text>
<circle cx="677.1" cy="811.18" r="5" fill="#00cc00"/>
<text x="677.10" y="814.48" text-anchor="middle" font-weight="bold" style="font-size:9.8px" transform="rotate(0.03 677.1 814.5)">+</text>
<text x="0.10" y="827.22" transform="rotate(0.03 36.9 827.2)">Matos et al 2020</text>
<text x="157.60" y="827.22" text-anchor="end" transform="rotate(0.03 157.6 827.2)">46</text>
<text x="197.80" y="827.22" text-anchor="end" transform="rotate(0.03 197.8 827.2)">46</text>
<text x="238.00" y="827.22" text-anchor="end" transform="rotate(0.03 238.0 827.2)">46</text>
<text x="278.20" y="827.22" text-anchor="end" transform="rotate(0.03 278.2 827.2)">46</text>
<text x="318.70" y="827.22" text-anchor="end" transform="rotate(0.03 318.7 827.2)">4.6%</text>
<text x="422.20" y="827.22" text-anchor="end" transform="rotate(0.03 422.2 827.2)">1.00 [0.96 , 1.04]</text>
<line x1="490.30" y1="826.57" x2="523.00" y2="826.57" stroke="#000" stroke-width="0.75"/>
<rect x="505.05" y="825.12" width="2.9" height="2.9" fill="#000090"/>
<circle cx="598.6" cy="824.62" r="5" fill="#00cc00"/>
<text x="598.60" y="827.92" text-anchor="middle" font-weight="bold" style="font-size:9.8px" transform="rotate(0.03 598.6 827.9)">+</text>
<circle cx="614.3" cy="824.62" r="5" fill="#00cc00"/>
<text x="614.30" y="827.92" text-anchor="middle" font-weight="bold" style="font-size:9.8px" transform="rotate(0.03 614.3 827.9)">+</text>
<circle cx="630.1" cy="824.62" r="5" fill="#00cc00"/>
<text x="630.10" y="827.92" text-anchor="middle" font-weight="bold" style="font-size:9.8px" transform="rotate(0.03 630.1 827.9)">+</text>
<circle cx="645.7" cy="824.62" r="5" fill="#00cc00"/>
<text x="645.70" y="827.92" text-anchor="middle" font-weight="bold" style="font-size:9.8px" transform="rotate(0.03 645.7 827.9)">+</text>
<circle cx="661.5" cy="824.62" r="5" fill="#00cc00"/>
<text x="661.50" y="827.92" text-anchor="middle" font-weight="bold" style="font-size:9.8px" transform="rotate(0.03 661.5 827.9)">+</text>
<circle cx="677.1" cy="824.62" r="5" fill="#00cc00"/>
<text x="677.10" y="827.92" text-anchor="middle" font-weight="bold" style="font-size:9.8px" transform="rotate(0.03 677.1 827.9)">+</text>
<text x="0.10" y="840.67" transform="rotate(0.03 39.2 840.7)">Akarsu et al 2020</text>
<text x="157.60" y="840.67" text-anchor="end" transform="rotate(0.03 157.6 840.7)">10</text>
<text x="197.80" y="840.67" text-anchor="end" transform="rotate(0.03 197.8 840.7)">12</text>
<text x="238.00" y="840.67" text-anchor="end" transform="rotate(0.03 238.0 840.7)">13</text>
<text x="278.20" y="840.67" text-anchor="end" transform="rotate(0.03 278.2 840.7)">16</text>
<text x="318.70" y="840.67" text-anchor="end" transform="rotate(0.03 318.7 840.7)">0.1%</text>
<text x="422.20" y="840.67" text-anchor="end" transform="rotate(0.03 422.2 840.7)">1.03 [0.73 , 1.45]</text>
<line x1="437.30" y1="840.02" x2="576.40" y2="840.02" stroke="#000" stroke-width="0.75"/>
<polygon points="435.80,840.02 439.20,836.87 439.20,843.17" fill="#000"/>
<polygon points="577.90,840.02 574.50,836.87 574.50,843.17" fill="#000"/>
<rect x="515.45" y="839.07" width="1.9" height="1.9" fill="#0000f0"/>
<circle cx="598.6" cy="838.07" r="5" fill="#cc0000"/>
<text x="598.60" y="840.72" text-anchor="middle" font-weight="bold" style="font-size:8.6px" transform="rotate(0.03 598.6 840.7)">-</text>
<circle cx="614.3" cy="838.07" r="5" fill="#f4ec00"/>
<text x="614.30" y="841.57" text-anchor="middle" font-weight="bold" style="font-size:10.2px" transform="rotate(0.03 614.3 841.6)">?</text>
<circle cx="630.1" cy="838.07" r="5" fill="#00cc00"/>
<text x="630.10" y="841.37" text-anchor="middle" font-weight="bold" style="font-size:9.8px" transform="rotate(0.03 630.1 841.4)">+</text>
<circle cx="645.7" cy="838.07" r="5" fill="#cc0000"/>
<text x="645.70" y="840.72" text-anchor="middle" font-weight="bold" style="font-size:8.6px" transform="rotate(0.03 645.7 840.7)">-</text>
<circle cx="661.5" cy="838.07" r="5" fill="#00cc00"/>
<text x="661.50" y="841.37" text-anchor="middle" font-weight="bold" style="font-size:9.8px" transform="rotate(0.03 661.5 841.4)">+</text>
<circle cx="677.1" cy="838.07" r="5" fill="#cc0000"/>
<text x="677.10" y="840.72" text-anchor="middle" font-weight="bold" style="font-size:8.6px" transform="rotate(0.03 677.1 840.7)">-</text>
<text x="0.10" y="854.11" font-weight="bold" transform="rotate(0.03 39.2 854.1)">Subtotal (95% CI)</text>
<text x="197.80" y="854.11" text-anchor="end" font-weight="bold" transform="rotate(0.03 197.8 854.1)">266</text>
<text x="278.20" y="854.11" text-anchor="end" font-weight="bold" transform="rotate(0.03 278.2 854.1)">281</text>
<text x="318.70" y="854.11" text-anchor="end" font-weight="bold" transform="rotate(0.03 318.7 854.1)">22.2%</text>
<text x="422.20" y="854.11" text-anchor="end" font-weight="bold" transform="rotate(0.03 422.2 854.1)">1.00 [0.98 , 1.02]</text>
<polygon points="498.45,853.46 506.50,846.96 514.75,853.46 506.50,859.96" fill="#000"/>
<text x="0.10" y="867.55" transform="rotate(0.03 30.0 867.6)">Total events:</text>
<text x="157.60" y="867.55" text-anchor="end" transform="rotate(0.03 157.6 867.6)">260</text>
<text x="238.00" y="867.55" text-anchor="end" transform="rotate(0.03 238.0 867.6)">274</text>
<text x="0.10" y="881.00" transform="rotate(0.03 154.2 881.0)">Heterogeneity: Tau² = 0.00; Chi² = 0.03, df = 6 (P = 1.00); I² = 0%</text>
<text x="0.10" y="894.44" transform="rotate(0.03 101.3 894.4)">Test for overall effect: Z = 0.01 (P = 0.99)</text>
<text x="0.10" y="921.32" font-weight="bold" transform="rotate(0.03 32.3 921.3)">Total (95% CI)</text>
<text x="197.80" y="921.32" text-anchor="end" font-weight="bold" transform="rotate(0.03 197.8 921.3)">1346</text>
<text x="278.20" y="921.32" text-anchor="end" font-weight="bold" transform="rotate(0.03 278.2 921.3)">1428</text>
<text x="318.70" y="921.32" text-anchor="end" font-weight="bold" transform="rotate(0.03 318.7 921.3)">100.0%</text>
<text x="422.20" y="921.32" text-anchor="end" font-weight="bold" transform="rotate(0.03 422.2 921.3)">1.00 [0.99 , 1.01]</text>
<polygon points="501.95,920.67 506.50,913.37 510.65,920.67 506.50,927.97" fill="#000"/>
<text x="0.10" y="934.77" transform="rotate(0.03 30.0 934.8)">Total events:</text>
<text x="157.60" y="934.77" text-anchor="end" transform="rotate(0.03 157.6 934.8)">1306</text>
<text x="238.00" y="934.77" text-anchor="end" transform="rotate(0.03 238.0 934.8)">1394</text>
<text x="0.10" y="948.21" transform="rotate(0.03 158.8 948.2)">Heterogeneity: Tau² = 0.00; Chi² = 16.21, df = 34 (P = 1.00); I² = 0%</text>
<text x="0.10" y="961.65" transform="rotate(0.03 101.3 961.7)">Test for overall effect: Z = 0.29 (P = 0.77)</text>
<text x="0.10" y="975.10" transform="rotate(0.03 161.1 975.1)">Test for subgroup differences: Chi² = 1.89, df = 4 (P = 0.76), I² = 0%</text>
<text x="0.10" y="1001.98" font-weight="bold" transform="rotate(0.03 43.8 1002.0)">Risk of bias legend</text>
<text x="0.10" y="1015.43" transform="rotate(0.03 108.2 1015.4)">(A) Bias arising from the randomization process</text>
<text x="0.10" y="1028.87" transform="rotate(0.03 290.1 1028.9)">(B) Bias due to deviations from intended interventions: Comparison of self-etch and total etch adhesive at 18th month under USPHS criteria</text>
<text x="0.10" y="1042.31" transform="rotate(0.03 276.1 1042.3)">(C) Bias due to missing outcome data: Comparison of self-etch and total etch adhesive at 18th month under USPHS criteria</text>
<text x="0.10" y="1055.75" transform="rotate(0.03 280.7 1055.8)">(D) Bias in measurement of the outcome: Comparison of self-etch and total etch adhesive at 18th month under USPHS criteria</text>
<text x="0.10" y="1069.20" transform="rotate(0.03 290.1 1069.2)">(E) Bias in selection of the reported result: Comparison of self-etch and total etch adhesive at 18th month under USPHS criteria</text>
<text x="0.10" y="1082.64" transform="rotate(0.03 230.1 1082.6)">(F) Overall bias: Comparison of self-etch and total etch adhesive at 18th month under USPHS criteria</text>
<line x1="436.30" y1="940.95" x2="577.60" y2="940.95" stroke="#444" stroke-width="1.0"/>
<line x1="443.56" y1="938.20" x2="443.56" y2="943.20" stroke="#222" stroke-width="0.8"/>
<text x="443.86" y="950.30" text-anchor="middle" transform="rotate(0.03 443.9 950.3)">0.85</text>
<line x1="465.69" y1="938.20" x2="465.69" y2="943.20" stroke="#222" stroke-width="0.8"/>
<text x="465.99" y="950.30" text-anchor="middle" transform="rotate(0.03 466.0 950.3)">0.9</text>
<line x1="506.50" y1="938.20" x2="506.50" y2="943.20" stroke="#222" stroke-width="0.8"/>
<text x="506.80" y="950.30" text-anchor="middle" transform="rotate(0.03 506.8 950.3)">1</text>
<line x1="543.41" y1="938.20" x2="543.41" y2="943.20" stroke="#222" stroke-width="0.8"/>
<text x="543.71" y="950.30" text-anchor="middle" transform="rotate(0.03 543.7 950.3)">1.1</text>
<line x1="577.11" y1="938.20" x2="577.11" y2="943.20" stroke="#222" stroke-width="0.8"/>
<text x="577.41" y="950.30" text-anchor="middle" transform="rotate(0.03 577.4 950.3)">1.2</text>
<text x="493.10" y="961.30" text-anchor="end" transform="rotate(0.03 493.1 961.3)">Self-etch</text>
<text x="520.90" y="961.30" transform="rotate(0.03 543.9 961.3)">Total-etch</text>
</svg>
</body></html>
